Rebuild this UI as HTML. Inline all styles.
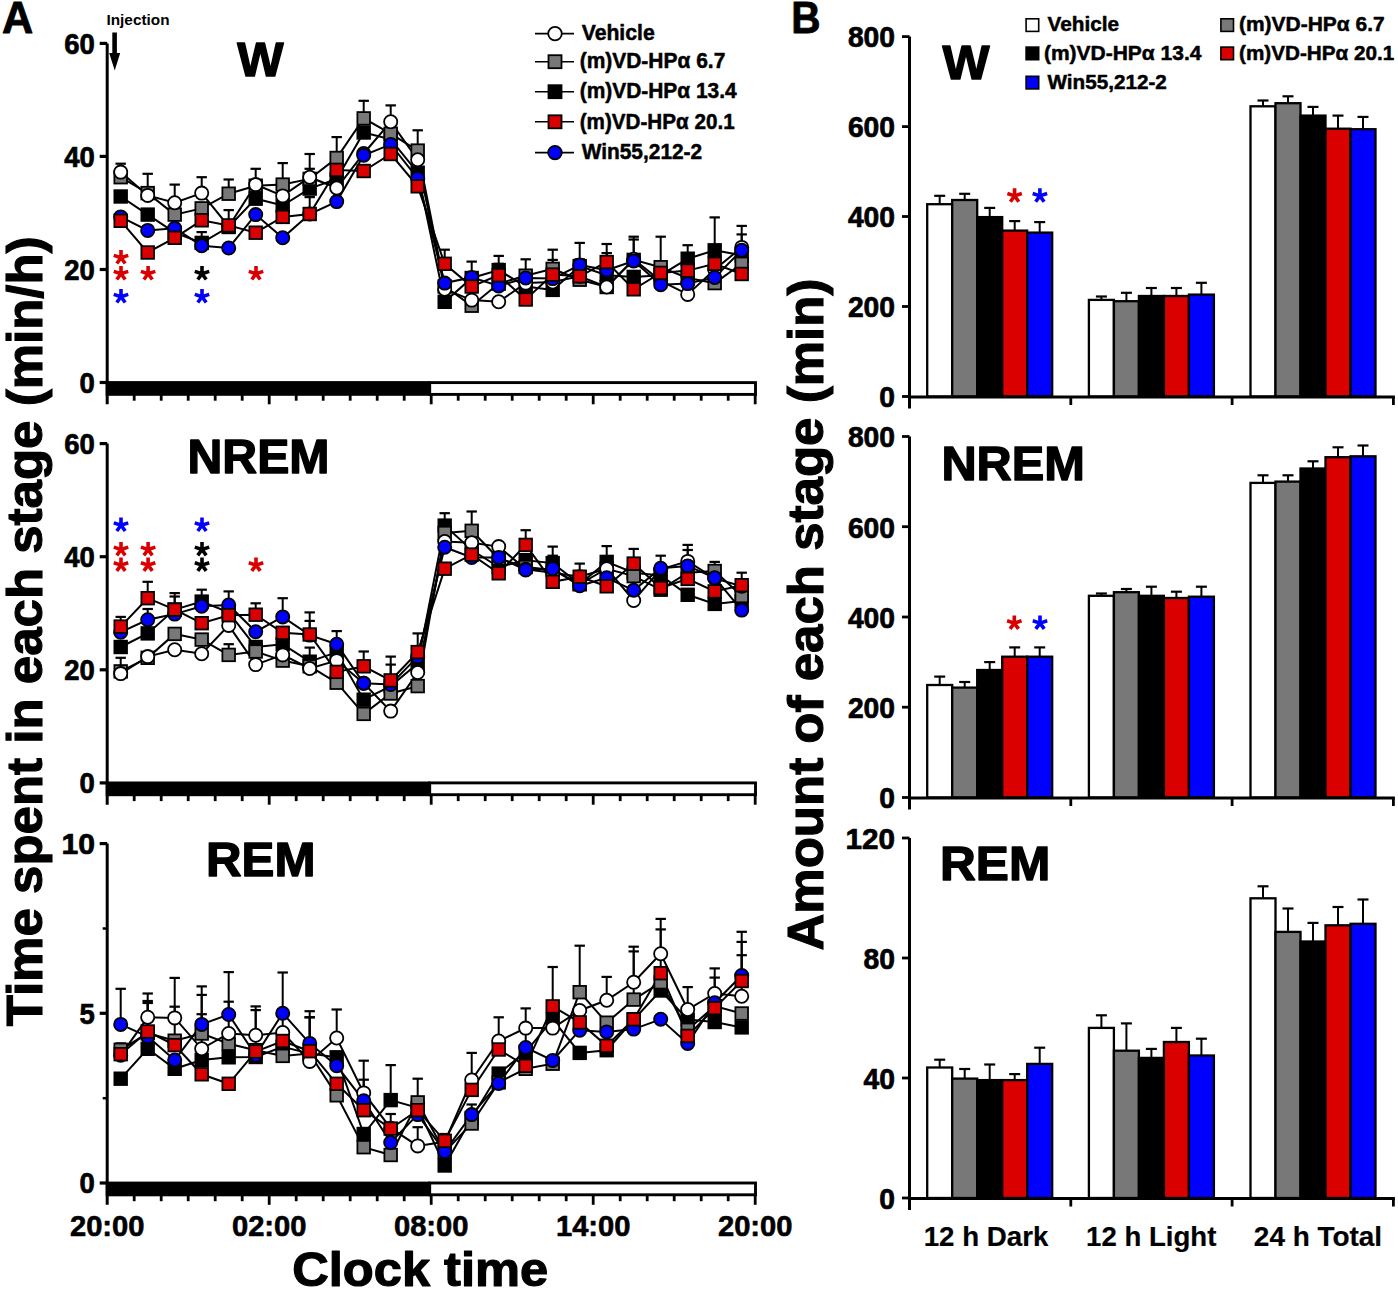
<!DOCTYPE html>
<html><head><meta charset="utf-8"><style>
html,body{margin:0;padding:0;background:#fff;width:1398px;height:1291px;overflow:hidden}
svg{display:block}
</style></head><body>
<svg width="1398" height="1291" viewBox="0 0 1398 1291" font-family='"Liberation Sans", sans-serif' font-weight="bold">
<rect width="1398" height="1291" fill="#fff"/>
<text x="2.0" y="32.8" font-size="43.5" text-anchor="start" fill="#000" stroke="#000" stroke-width="0.8" stroke-linejoin="round" textLength="31.2" lengthAdjust="spacingAndGlyphs">A</text>
<text x="106.5" y="25.0" font-size="15.5" text-anchor="start" fill="#000" textLength="63.0" lengthAdjust="spacingAndGlyphs">Injection</text>
<rect x="112.3" y="32.5" width="4.6" height="22" fill="#000"/>
<path d="M109.2,53 L120.2,53 L114.7,70.5 Z" fill="#000"/>
<line x1="107.2" y1="43.4" x2="107.2" y2="404.3" stroke="#000" stroke-width="3"/>
<line x1="99.7" y1="43.4" x2="107.2" y2="43.4" stroke="#000" stroke-width="3.2"/>
<text x="94.9" y="53.7" font-size="29" text-anchor="end" fill="#000" stroke="#000" stroke-width="0.7" stroke-linejoin="round" textLength="30.6" lengthAdjust="spacingAndGlyphs">60</text>
<line x1="99.7" y1="156.4" x2="107.2" y2="156.4" stroke="#000" stroke-width="3.2"/>
<text x="94.9" y="166.7" font-size="29" text-anchor="end" fill="#000" stroke="#000" stroke-width="0.7" stroke-linejoin="round" textLength="30.6" lengthAdjust="spacingAndGlyphs">40</text>
<line x1="99.7" y1="269.5" x2="107.2" y2="269.5" stroke="#000" stroke-width="3.2"/>
<text x="94.9" y="279.8" font-size="29" text-anchor="end" fill="#000" stroke="#000" stroke-width="0.7" stroke-linejoin="round" textLength="30.6" lengthAdjust="spacingAndGlyphs">20</text>
<line x1="99.7" y1="382.5" x2="107.2" y2="382.5" stroke="#000" stroke-width="3.2"/>
<text x="94.9" y="392.8" font-size="29" text-anchor="end" fill="#000" stroke="#000" stroke-width="0.7" stroke-linejoin="round" textLength="15.3" lengthAdjust="spacingAndGlyphs">0</text>
<rect x="429.7" y="382.6" width="325.8" height="11.8" fill="#fff" stroke="#000" stroke-width="2.9"/>
<rect x="105.7" y="381.1" width="324.3" height="14.7" fill="#000"/>
<line x1="134.2" y1="393.5" x2="134.2" y2="400.7" stroke="#000" stroke-width="2.8"/>
<line x1="161.2" y1="393.5" x2="161.2" y2="400.7" stroke="#000" stroke-width="2.8"/>
<line x1="188.2" y1="393.5" x2="188.2" y2="400.7" stroke="#000" stroke-width="2.8"/>
<line x1="215.2" y1="393.5" x2="215.2" y2="400.7" stroke="#000" stroke-width="2.8"/>
<line x1="242.2" y1="393.5" x2="242.2" y2="400.7" stroke="#000" stroke-width="2.8"/>
<line x1="269.2" y1="393.5" x2="269.2" y2="404.3" stroke="#000" stroke-width="2.8"/>
<line x1="296.2" y1="393.5" x2="296.2" y2="400.7" stroke="#000" stroke-width="2.8"/>
<line x1="323.2" y1="393.5" x2="323.2" y2="400.7" stroke="#000" stroke-width="2.8"/>
<line x1="350.2" y1="393.5" x2="350.2" y2="400.7" stroke="#000" stroke-width="2.8"/>
<line x1="377.2" y1="393.5" x2="377.2" y2="400.7" stroke="#000" stroke-width="2.8"/>
<line x1="404.2" y1="393.5" x2="404.2" y2="400.7" stroke="#000" stroke-width="2.8"/>
<line x1="431.2" y1="393.5" x2="431.2" y2="404.3" stroke="#000" stroke-width="2.8"/>
<line x1="458.2" y1="393.5" x2="458.2" y2="400.7" stroke="#000" stroke-width="2.8"/>
<line x1="485.2" y1="393.5" x2="485.2" y2="400.7" stroke="#000" stroke-width="2.8"/>
<line x1="512.2" y1="393.5" x2="512.2" y2="400.7" stroke="#000" stroke-width="2.8"/>
<line x1="539.2" y1="393.5" x2="539.2" y2="400.7" stroke="#000" stroke-width="2.8"/>
<line x1="566.2" y1="393.5" x2="566.2" y2="400.7" stroke="#000" stroke-width="2.8"/>
<line x1="593.2" y1="393.5" x2="593.2" y2="404.3" stroke="#000" stroke-width="2.8"/>
<line x1="620.2" y1="393.5" x2="620.2" y2="400.7" stroke="#000" stroke-width="2.8"/>
<line x1="647.2" y1="393.5" x2="647.2" y2="400.7" stroke="#000" stroke-width="2.8"/>
<line x1="674.2" y1="393.5" x2="674.2" y2="400.7" stroke="#000" stroke-width="2.8"/>
<line x1="701.2" y1="393.5" x2="701.2" y2="400.7" stroke="#000" stroke-width="2.8"/>
<line x1="728.2" y1="393.5" x2="728.2" y2="400.7" stroke="#000" stroke-width="2.8"/>
<line x1="755.2" y1="393.5" x2="755.2" y2="404.3" stroke="#000" stroke-width="2.8"/>
<text x="237.2" y="75.7" font-size="49" text-anchor="start" fill="#000" stroke="#000" stroke-width="1.4" stroke-linejoin="round" textLength="46.3" lengthAdjust="spacingAndGlyphs">W</text>
<polyline points="120.7,172.1 147.7,195.4 174.7,202.7 201.7,193.1 228.7,226.5 255.7,184.6 282.7,195.9 309.7,177.2 336.7,188.0 363.7,153.5 390.7,121.8 417.7,159.7 444.7,289.3 471.7,300.1 498.7,301.8 525.7,283.1 552.7,282.0 579.7,276.3 606.7,287.0 633.7,259.3 660.7,280.8 687.7,294.4 714.7,269.5 741.7,247.4" fill="none" stroke="#000" stroke-width="2"/>
<polyline points="120.7,177.2 147.7,193.1 174.7,214.6 201.7,208.4 228.7,193.7 255.7,185.7 282.7,184.6 309.7,178.9 336.7,158.0 363.7,118.4 390.7,133.7 417.7,150.6 444.7,286.5 471.7,305.7 498.7,283.6 525.7,275.7 552.7,268.9 579.7,279.7 606.7,287.0 633.7,259.9 660.7,267.2 687.7,278.0 714.7,283.1 741.7,263.8" fill="none" stroke="#000" stroke-width="2"/>
<polyline points="120.7,196.5 147.7,214.6 174.7,232.7 201.7,242.9 228.7,227.0 255.7,198.7 282.7,205.5 309.7,188.6 336.7,178.9 363.7,132.5 390.7,139.3 417.7,172.7 444.7,301.8 471.7,278.0 498.7,270.1 525.7,286.5 552.7,289.9 579.7,266.1 606.7,275.2 633.7,276.9 660.7,275.2 687.7,258.7 714.7,250.3 741.7,255.3" fill="none" stroke="#000" stroke-width="2"/>
<polyline points="120.7,220.8 147.7,252.5 174.7,237.8 201.7,220.3 228.7,225.4 255.7,232.7 282.7,216.9 309.7,214.0 336.7,169.9 363.7,171.0 390.7,154.0 417.7,186.3 444.7,263.8 471.7,286.5 498.7,275.2 525.7,299.5 552.7,274.6 579.7,276.3 606.7,262.1 633.7,289.3 660.7,272.9 687.7,270.6 714.7,263.8 741.7,274.0" fill="none" stroke="#000" stroke-width="2"/>
<polyline points="120.7,216.9 147.7,230.4 174.7,228.2 201.7,245.7 228.7,248.0 255.7,214.6 282.7,237.8 309.7,214.0 336.7,201.6 363.7,155.2 390.7,144.4 417.7,178.4 444.7,283.1 471.7,277.4 498.7,285.9 525.7,278.0 552.7,278.6 579.7,265.0 606.7,270.1 633.7,261.0 660.7,284.8 687.7,283.6 714.7,277.4 741.7,250.3" fill="none" stroke="#000" stroke-width="2"/>
<line x1="120.7" y1="172.1" x2="120.7" y2="163.7" stroke="#000" stroke-width="2"/>
<line x1="115.5" y1="163.7" x2="125.9" y2="163.7" stroke="#000" stroke-width="2.2"/>
<line x1="147.7" y1="193.1" x2="147.7" y2="173.8" stroke="#000" stroke-width="2"/>
<line x1="142.5" y1="173.8" x2="152.9" y2="173.8" stroke="#000" stroke-width="2.2"/>
<line x1="174.7" y1="202.7" x2="174.7" y2="184.6" stroke="#000" stroke-width="2"/>
<line x1="169.5" y1="184.6" x2="179.9" y2="184.6" stroke="#000" stroke-width="2.2"/>
<line x1="201.7" y1="193.1" x2="201.7" y2="177.2" stroke="#000" stroke-width="2"/>
<line x1="196.5" y1="177.2" x2="206.9" y2="177.2" stroke="#000" stroke-width="2.2"/>
<line x1="201.7" y1="242.9" x2="201.7" y2="232.1" stroke="#000" stroke-width="2"/>
<line x1="196.5" y1="232.1" x2="206.9" y2="232.1" stroke="#000" stroke-width="2.2"/>
<line x1="228.7" y1="193.7" x2="228.7" y2="179.5" stroke="#000" stroke-width="2"/>
<line x1="223.5" y1="179.5" x2="233.9" y2="179.5" stroke="#000" stroke-width="2.2"/>
<line x1="228.7" y1="227.0" x2="228.7" y2="210.1" stroke="#000" stroke-width="2"/>
<line x1="223.5" y1="210.1" x2="233.9" y2="210.1" stroke="#000" stroke-width="2.2"/>
<line x1="255.7" y1="184.6" x2="255.7" y2="168.8" stroke="#000" stroke-width="2"/>
<line x1="250.5" y1="168.8" x2="260.9" y2="168.8" stroke="#000" stroke-width="2.2"/>
<line x1="282.7" y1="184.6" x2="282.7" y2="163.1" stroke="#000" stroke-width="2"/>
<line x1="277.5" y1="163.1" x2="287.9" y2="163.1" stroke="#000" stroke-width="2.2"/>
<line x1="309.7" y1="177.2" x2="309.7" y2="154.0" stroke="#000" stroke-width="2"/>
<line x1="304.5" y1="154.0" x2="314.9" y2="154.0" stroke="#000" stroke-width="2.2"/>
<line x1="309.7" y1="188.6" x2="309.7" y2="168.8" stroke="#000" stroke-width="2"/>
<line x1="304.5" y1="168.8" x2="314.9" y2="168.8" stroke="#000" stroke-width="2.2"/>
<line x1="309.7" y1="214.0" x2="309.7" y2="197.1" stroke="#000" stroke-width="2"/>
<line x1="304.5" y1="197.1" x2="314.9" y2="197.1" stroke="#000" stroke-width="2.2"/>
<line x1="336.7" y1="178.9" x2="336.7" y2="168.2" stroke="#000" stroke-width="2"/>
<line x1="331.5" y1="168.2" x2="341.9" y2="168.2" stroke="#000" stroke-width="2.2"/>
<line x1="336.7" y1="188.0" x2="336.7" y2="175.0" stroke="#000" stroke-width="2"/>
<line x1="331.5" y1="175.0" x2="341.9" y2="175.0" stroke="#000" stroke-width="2.2"/>
<line x1="390.7" y1="139.3" x2="390.7" y2="124.6" stroke="#000" stroke-width="2"/>
<line x1="385.5" y1="124.6" x2="395.9" y2="124.6" stroke="#000" stroke-width="2.2"/>
<line x1="417.7" y1="159.7" x2="417.7" y2="145.5" stroke="#000" stroke-width="2"/>
<line x1="412.5" y1="145.5" x2="422.9" y2="145.5" stroke="#000" stroke-width="2.2"/>
<line x1="336.7" y1="158.0" x2="336.7" y2="137.1" stroke="#000" stroke-width="2"/>
<line x1="331.5" y1="137.1" x2="341.9" y2="137.1" stroke="#000" stroke-width="2.2"/>
<line x1="336.7" y1="169.9" x2="336.7" y2="155.7" stroke="#000" stroke-width="2"/>
<line x1="331.5" y1="155.7" x2="341.9" y2="155.7" stroke="#000" stroke-width="2.2"/>
<line x1="363.7" y1="118.4" x2="363.7" y2="100.8" stroke="#000" stroke-width="2"/>
<line x1="358.5" y1="100.8" x2="368.9" y2="100.8" stroke="#000" stroke-width="2.2"/>
<line x1="390.7" y1="121.8" x2="390.7" y2="105.4" stroke="#000" stroke-width="2"/>
<line x1="385.5" y1="105.4" x2="395.9" y2="105.4" stroke="#000" stroke-width="2.2"/>
<line x1="390.7" y1="133.7" x2="390.7" y2="121.2" stroke="#000" stroke-width="2"/>
<line x1="385.5" y1="121.2" x2="395.9" y2="121.2" stroke="#000" stroke-width="2.2"/>
<line x1="417.7" y1="150.6" x2="417.7" y2="130.3" stroke="#000" stroke-width="2"/>
<line x1="412.5" y1="130.3" x2="422.9" y2="130.3" stroke="#000" stroke-width="2.2"/>
<line x1="444.7" y1="263.8" x2="444.7" y2="249.7" stroke="#000" stroke-width="2"/>
<line x1="439.5" y1="249.7" x2="449.9" y2="249.7" stroke="#000" stroke-width="2.2"/>
<line x1="471.7" y1="277.4" x2="471.7" y2="261.6" stroke="#000" stroke-width="2"/>
<line x1="466.5" y1="261.6" x2="476.9" y2="261.6" stroke="#000" stroke-width="2.2"/>
<line x1="498.7" y1="270.1" x2="498.7" y2="255.9" stroke="#000" stroke-width="2"/>
<line x1="493.5" y1="255.9" x2="503.9" y2="255.9" stroke="#000" stroke-width="2.2"/>
<line x1="498.7" y1="275.2" x2="498.7" y2="263.8" stroke="#000" stroke-width="2"/>
<line x1="493.5" y1="263.8" x2="503.9" y2="263.8" stroke="#000" stroke-width="2.2"/>
<line x1="525.7" y1="275.7" x2="525.7" y2="259.3" stroke="#000" stroke-width="2"/>
<line x1="520.5" y1="259.3" x2="530.9" y2="259.3" stroke="#000" stroke-width="2.2"/>
<line x1="552.7" y1="268.9" x2="552.7" y2="249.7" stroke="#000" stroke-width="2"/>
<line x1="547.5" y1="249.7" x2="557.9" y2="249.7" stroke="#000" stroke-width="2.2"/>
<line x1="552.7" y1="274.6" x2="552.7" y2="259.9" stroke="#000" stroke-width="2"/>
<line x1="547.5" y1="259.9" x2="557.9" y2="259.9" stroke="#000" stroke-width="2.2"/>
<line x1="579.7" y1="265.0" x2="579.7" y2="242.9" stroke="#000" stroke-width="2"/>
<line x1="574.5" y1="242.9" x2="584.9" y2="242.9" stroke="#000" stroke-width="2.2"/>
<line x1="579.7" y1="276.3" x2="579.7" y2="259.3" stroke="#000" stroke-width="2"/>
<line x1="574.5" y1="259.3" x2="584.9" y2="259.3" stroke="#000" stroke-width="2.2"/>
<line x1="606.7" y1="262.1" x2="606.7" y2="244.0" stroke="#000" stroke-width="2"/>
<line x1="601.5" y1="244.0" x2="611.9" y2="244.0" stroke="#000" stroke-width="2.2"/>
<line x1="606.7" y1="270.1" x2="606.7" y2="253.1" stroke="#000" stroke-width="2"/>
<line x1="601.5" y1="253.1" x2="611.9" y2="253.1" stroke="#000" stroke-width="2.2"/>
<line x1="633.7" y1="261.0" x2="633.7" y2="236.7" stroke="#000" stroke-width="2"/>
<line x1="628.5" y1="236.7" x2="638.9" y2="236.7" stroke="#000" stroke-width="2.2"/>
<line x1="633.7" y1="259.3" x2="633.7" y2="239.5" stroke="#000" stroke-width="2"/>
<line x1="628.5" y1="239.5" x2="638.9" y2="239.5" stroke="#000" stroke-width="2.2"/>
<line x1="660.7" y1="267.2" x2="660.7" y2="236.7" stroke="#000" stroke-width="2"/>
<line x1="655.5" y1="236.7" x2="665.9" y2="236.7" stroke="#000" stroke-width="2.2"/>
<line x1="687.7" y1="258.7" x2="687.7" y2="245.2" stroke="#000" stroke-width="2"/>
<line x1="682.5" y1="245.2" x2="692.9" y2="245.2" stroke="#000" stroke-width="2.2"/>
<line x1="687.7" y1="270.6" x2="687.7" y2="259.3" stroke="#000" stroke-width="2"/>
<line x1="682.5" y1="259.3" x2="692.9" y2="259.3" stroke="#000" stroke-width="2.2"/>
<line x1="714.7" y1="250.3" x2="714.7" y2="217.4" stroke="#000" stroke-width="2"/>
<line x1="709.5" y1="217.4" x2="719.9" y2="217.4" stroke="#000" stroke-width="2.2"/>
<line x1="741.7" y1="247.4" x2="741.7" y2="225.9" stroke="#000" stroke-width="2"/>
<line x1="736.5" y1="225.9" x2="746.9" y2="225.9" stroke="#000" stroke-width="2.2"/>
<line x1="741.7" y1="250.3" x2="741.7" y2="234.4" stroke="#000" stroke-width="2"/>
<line x1="736.5" y1="234.4" x2="746.9" y2="234.4" stroke="#000" stroke-width="2.2"/>
<rect x="114.4" y="190.2" width="12.6" height="12.6" fill="#000" stroke="#000" stroke-width="1.8"/>
<rect x="141.4" y="208.3" width="12.6" height="12.6" fill="#000" stroke="#000" stroke-width="1.8"/>
<rect x="168.4" y="226.4" width="12.6" height="12.6" fill="#000" stroke="#000" stroke-width="1.8"/>
<rect x="195.4" y="236.6" width="12.6" height="12.6" fill="#000" stroke="#000" stroke-width="1.8"/>
<rect x="222.4" y="220.7" width="12.6" height="12.6" fill="#000" stroke="#000" stroke-width="1.8"/>
<rect x="249.4" y="192.4" width="12.6" height="12.6" fill="#000" stroke="#000" stroke-width="1.8"/>
<rect x="276.4" y="199.2" width="12.6" height="12.6" fill="#000" stroke="#000" stroke-width="1.8"/>
<rect x="303.4" y="182.3" width="12.6" height="12.6" fill="#000" stroke="#000" stroke-width="1.8"/>
<rect x="330.4" y="172.6" width="12.6" height="12.6" fill="#000" stroke="#000" stroke-width="1.8"/>
<rect x="357.4" y="126.2" width="12.6" height="12.6" fill="#000" stroke="#000" stroke-width="1.8"/>
<rect x="384.4" y="133.0" width="12.6" height="12.6" fill="#000" stroke="#000" stroke-width="1.8"/>
<rect x="411.4" y="166.4" width="12.6" height="12.6" fill="#000" stroke="#000" stroke-width="1.8"/>
<rect x="438.4" y="295.5" width="12.6" height="12.6" fill="#000" stroke="#000" stroke-width="1.8"/>
<rect x="465.4" y="271.7" width="12.6" height="12.6" fill="#000" stroke="#000" stroke-width="1.8"/>
<rect x="492.4" y="263.8" width="12.6" height="12.6" fill="#000" stroke="#000" stroke-width="1.8"/>
<rect x="519.4" y="280.2" width="12.6" height="12.6" fill="#000" stroke="#000" stroke-width="1.8"/>
<rect x="546.4" y="283.6" width="12.6" height="12.6" fill="#000" stroke="#000" stroke-width="1.8"/>
<rect x="573.4" y="259.8" width="12.6" height="12.6" fill="#000" stroke="#000" stroke-width="1.8"/>
<rect x="600.4" y="268.9" width="12.6" height="12.6" fill="#000" stroke="#000" stroke-width="1.8"/>
<rect x="627.4" y="270.6" width="12.6" height="12.6" fill="#000" stroke="#000" stroke-width="1.8"/>
<rect x="654.4" y="268.9" width="12.6" height="12.6" fill="#000" stroke="#000" stroke-width="1.8"/>
<rect x="681.4" y="252.4" width="12.6" height="12.6" fill="#000" stroke="#000" stroke-width="1.8"/>
<rect x="708.4" y="244.0" width="12.6" height="12.6" fill="#000" stroke="#000" stroke-width="1.8"/>
<rect x="735.4" y="249.0" width="12.6" height="12.6" fill="#000" stroke="#000" stroke-width="1.8"/>
<rect x="114.4" y="170.9" width="12.6" height="12.6" fill="#787878" stroke="#000" stroke-width="1.8"/>
<rect x="141.4" y="186.8" width="12.6" height="12.6" fill="#787878" stroke="#000" stroke-width="1.8"/>
<rect x="168.4" y="208.3" width="12.6" height="12.6" fill="#787878" stroke="#000" stroke-width="1.8"/>
<rect x="195.4" y="202.1" width="12.6" height="12.6" fill="#787878" stroke="#000" stroke-width="1.8"/>
<rect x="222.4" y="187.4" width="12.6" height="12.6" fill="#787878" stroke="#000" stroke-width="1.8"/>
<rect x="249.4" y="179.4" width="12.6" height="12.6" fill="#787878" stroke="#000" stroke-width="1.8"/>
<rect x="276.4" y="178.3" width="12.6" height="12.6" fill="#787878" stroke="#000" stroke-width="1.8"/>
<rect x="303.4" y="172.6" width="12.6" height="12.6" fill="#787878" stroke="#000" stroke-width="1.8"/>
<rect x="330.4" y="151.7" width="12.6" height="12.6" fill="#787878" stroke="#000" stroke-width="1.8"/>
<rect x="357.4" y="112.1" width="12.6" height="12.6" fill="#787878" stroke="#000" stroke-width="1.8"/>
<rect x="384.4" y="127.4" width="12.6" height="12.6" fill="#787878" stroke="#000" stroke-width="1.8"/>
<rect x="411.4" y="144.3" width="12.6" height="12.6" fill="#787878" stroke="#000" stroke-width="1.8"/>
<rect x="438.4" y="280.2" width="12.6" height="12.6" fill="#787878" stroke="#000" stroke-width="1.8"/>
<rect x="465.4" y="299.4" width="12.6" height="12.6" fill="#787878" stroke="#000" stroke-width="1.8"/>
<rect x="492.4" y="277.3" width="12.6" height="12.6" fill="#787878" stroke="#000" stroke-width="1.8"/>
<rect x="519.4" y="269.4" width="12.6" height="12.6" fill="#787878" stroke="#000" stroke-width="1.8"/>
<rect x="546.4" y="262.6" width="12.6" height="12.6" fill="#787878" stroke="#000" stroke-width="1.8"/>
<rect x="573.4" y="273.4" width="12.6" height="12.6" fill="#787878" stroke="#000" stroke-width="1.8"/>
<rect x="600.4" y="280.7" width="12.6" height="12.6" fill="#787878" stroke="#000" stroke-width="1.8"/>
<rect x="627.4" y="253.6" width="12.6" height="12.6" fill="#787878" stroke="#000" stroke-width="1.8"/>
<rect x="654.4" y="260.9" width="12.6" height="12.6" fill="#787878" stroke="#000" stroke-width="1.8"/>
<rect x="681.4" y="271.7" width="12.6" height="12.6" fill="#787878" stroke="#000" stroke-width="1.8"/>
<rect x="708.4" y="276.8" width="12.6" height="12.6" fill="#787878" stroke="#000" stroke-width="1.8"/>
<rect x="735.4" y="257.5" width="12.6" height="12.6" fill="#787878" stroke="#000" stroke-width="1.8"/>
<circle cx="120.7" cy="172.1" r="6.6" fill="#fff" stroke="#000" stroke-width="1.8"/>
<circle cx="147.7" cy="195.4" r="6.6" fill="#fff" stroke="#000" stroke-width="1.8"/>
<circle cx="174.7" cy="202.7" r="6.6" fill="#fff" stroke="#000" stroke-width="1.8"/>
<circle cx="201.7" cy="193.1" r="6.6" fill="#fff" stroke="#000" stroke-width="1.8"/>
<circle cx="228.7" cy="226.5" r="6.6" fill="#fff" stroke="#000" stroke-width="1.8"/>
<circle cx="255.7" cy="184.6" r="6.6" fill="#fff" stroke="#000" stroke-width="1.8"/>
<circle cx="282.7" cy="195.9" r="6.6" fill="#fff" stroke="#000" stroke-width="1.8"/>
<circle cx="309.7" cy="177.2" r="6.6" fill="#fff" stroke="#000" stroke-width="1.8"/>
<circle cx="336.7" cy="188.0" r="6.6" fill="#fff" stroke="#000" stroke-width="1.8"/>
<circle cx="363.7" cy="153.5" r="6.6" fill="#fff" stroke="#000" stroke-width="1.8"/>
<circle cx="390.7" cy="121.8" r="6.6" fill="#fff" stroke="#000" stroke-width="1.8"/>
<circle cx="417.7" cy="159.7" r="6.6" fill="#fff" stroke="#000" stroke-width="1.8"/>
<circle cx="444.7" cy="289.3" r="6.6" fill="#fff" stroke="#000" stroke-width="1.8"/>
<circle cx="471.7" cy="300.1" r="6.6" fill="#fff" stroke="#000" stroke-width="1.8"/>
<circle cx="498.7" cy="301.8" r="6.6" fill="#fff" stroke="#000" stroke-width="1.8"/>
<circle cx="525.7" cy="283.1" r="6.6" fill="#fff" stroke="#000" stroke-width="1.8"/>
<circle cx="552.7" cy="282.0" r="6.6" fill="#fff" stroke="#000" stroke-width="1.8"/>
<circle cx="579.7" cy="276.3" r="6.6" fill="#fff" stroke="#000" stroke-width="1.8"/>
<circle cx="606.7" cy="287.0" r="6.6" fill="#fff" stroke="#000" stroke-width="1.8"/>
<circle cx="633.7" cy="259.3" r="6.6" fill="#fff" stroke="#000" stroke-width="1.8"/>
<circle cx="660.7" cy="280.8" r="6.6" fill="#fff" stroke="#000" stroke-width="1.8"/>
<circle cx="687.7" cy="294.4" r="6.6" fill="#fff" stroke="#000" stroke-width="1.8"/>
<circle cx="714.7" cy="269.5" r="6.6" fill="#fff" stroke="#000" stroke-width="1.8"/>
<circle cx="741.7" cy="247.4" r="6.6" fill="#fff" stroke="#000" stroke-width="1.8"/>
<circle cx="120.7" cy="216.9" r="6.6" fill="#0000ff" stroke="#000" stroke-width="1.8"/>
<circle cx="147.7" cy="230.4" r="6.6" fill="#0000ff" stroke="#000" stroke-width="1.8"/>
<circle cx="174.7" cy="228.2" r="6.6" fill="#0000ff" stroke="#000" stroke-width="1.8"/>
<circle cx="201.7" cy="245.7" r="6.6" fill="#0000ff" stroke="#000" stroke-width="1.8"/>
<circle cx="228.7" cy="248.0" r="6.6" fill="#0000ff" stroke="#000" stroke-width="1.8"/>
<circle cx="255.7" cy="214.6" r="6.6" fill="#0000ff" stroke="#000" stroke-width="1.8"/>
<circle cx="282.7" cy="237.8" r="6.6" fill="#0000ff" stroke="#000" stroke-width="1.8"/>
<circle cx="309.7" cy="214.0" r="6.6" fill="#0000ff" stroke="#000" stroke-width="1.8"/>
<circle cx="336.7" cy="201.6" r="6.6" fill="#0000ff" stroke="#000" stroke-width="1.8"/>
<circle cx="363.7" cy="155.2" r="6.6" fill="#0000ff" stroke="#000" stroke-width="1.8"/>
<circle cx="390.7" cy="144.4" r="6.6" fill="#0000ff" stroke="#000" stroke-width="1.8"/>
<circle cx="417.7" cy="178.4" r="6.6" fill="#0000ff" stroke="#000" stroke-width="1.8"/>
<circle cx="444.7" cy="283.1" r="6.6" fill="#0000ff" stroke="#000" stroke-width="1.8"/>
<circle cx="471.7" cy="277.4" r="6.6" fill="#0000ff" stroke="#000" stroke-width="1.8"/>
<circle cx="498.7" cy="285.9" r="6.6" fill="#0000ff" stroke="#000" stroke-width="1.8"/>
<circle cx="525.7" cy="278.0" r="6.6" fill="#0000ff" stroke="#000" stroke-width="1.8"/>
<circle cx="552.7" cy="278.6" r="6.6" fill="#0000ff" stroke="#000" stroke-width="1.8"/>
<circle cx="579.7" cy="265.0" r="6.6" fill="#0000ff" stroke="#000" stroke-width="1.8"/>
<circle cx="606.7" cy="270.1" r="6.6" fill="#0000ff" stroke="#000" stroke-width="1.8"/>
<circle cx="633.7" cy="261.0" r="6.6" fill="#0000ff" stroke="#000" stroke-width="1.8"/>
<circle cx="660.7" cy="284.8" r="6.6" fill="#0000ff" stroke="#000" stroke-width="1.8"/>
<circle cx="687.7" cy="283.6" r="6.6" fill="#0000ff" stroke="#000" stroke-width="1.8"/>
<circle cx="714.7" cy="277.4" r="6.6" fill="#0000ff" stroke="#000" stroke-width="1.8"/>
<circle cx="741.7" cy="250.3" r="6.6" fill="#0000ff" stroke="#000" stroke-width="1.8"/>
<rect x="114.4" y="214.5" width="12.6" height="12.6" fill="#da0000" stroke="#000" stroke-width="1.8"/>
<rect x="141.4" y="246.2" width="12.6" height="12.6" fill="#da0000" stroke="#000" stroke-width="1.8"/>
<rect x="168.4" y="231.5" width="12.6" height="12.6" fill="#da0000" stroke="#000" stroke-width="1.8"/>
<rect x="195.4" y="214.0" width="12.6" height="12.6" fill="#da0000" stroke="#000" stroke-width="1.8"/>
<rect x="222.4" y="219.1" width="12.6" height="12.6" fill="#da0000" stroke="#000" stroke-width="1.8"/>
<rect x="249.4" y="226.4" width="12.6" height="12.6" fill="#da0000" stroke="#000" stroke-width="1.8"/>
<rect x="276.4" y="210.6" width="12.6" height="12.6" fill="#da0000" stroke="#000" stroke-width="1.8"/>
<rect x="303.4" y="207.7" width="12.6" height="12.6" fill="#da0000" stroke="#000" stroke-width="1.8"/>
<rect x="330.4" y="163.6" width="12.6" height="12.6" fill="#da0000" stroke="#000" stroke-width="1.8"/>
<rect x="357.4" y="164.7" width="12.6" height="12.6" fill="#da0000" stroke="#000" stroke-width="1.8"/>
<rect x="384.4" y="147.7" width="12.6" height="12.6" fill="#da0000" stroke="#000" stroke-width="1.8"/>
<rect x="411.4" y="180.0" width="12.6" height="12.6" fill="#da0000" stroke="#000" stroke-width="1.8"/>
<rect x="438.4" y="257.5" width="12.6" height="12.6" fill="#da0000" stroke="#000" stroke-width="1.8"/>
<rect x="465.4" y="280.2" width="12.6" height="12.6" fill="#da0000" stroke="#000" stroke-width="1.8"/>
<rect x="492.4" y="268.9" width="12.6" height="12.6" fill="#da0000" stroke="#000" stroke-width="1.8"/>
<rect x="519.4" y="293.2" width="12.6" height="12.6" fill="#da0000" stroke="#000" stroke-width="1.8"/>
<rect x="546.4" y="268.3" width="12.6" height="12.6" fill="#da0000" stroke="#000" stroke-width="1.8"/>
<rect x="573.4" y="270.0" width="12.6" height="12.6" fill="#da0000" stroke="#000" stroke-width="1.8"/>
<rect x="600.4" y="255.8" width="12.6" height="12.6" fill="#da0000" stroke="#000" stroke-width="1.8"/>
<rect x="627.4" y="283.0" width="12.6" height="12.6" fill="#da0000" stroke="#000" stroke-width="1.8"/>
<rect x="654.4" y="266.6" width="12.6" height="12.6" fill="#da0000" stroke="#000" stroke-width="1.8"/>
<rect x="681.4" y="264.3" width="12.6" height="12.6" fill="#da0000" stroke="#000" stroke-width="1.8"/>
<rect x="708.4" y="257.5" width="12.6" height="12.6" fill="#da0000" stroke="#000" stroke-width="1.8"/>
<rect x="735.4" y="267.7" width="12.6" height="12.6" fill="#da0000" stroke="#000" stroke-width="1.8"/>
<line x1="107.2" y1="443.6" x2="107.2" y2="804.7" stroke="#000" stroke-width="3"/>
<line x1="99.7" y1="443.6" x2="107.2" y2="443.6" stroke="#000" stroke-width="3.2"/>
<text x="94.9" y="453.9" font-size="29" text-anchor="end" fill="#000" stroke="#000" stroke-width="0.7" stroke-linejoin="round" textLength="30.6" lengthAdjust="spacingAndGlyphs">60</text>
<line x1="99.7" y1="556.7" x2="107.2" y2="556.7" stroke="#000" stroke-width="3.2"/>
<text x="94.9" y="567.0" font-size="29" text-anchor="end" fill="#000" stroke="#000" stroke-width="0.7" stroke-linejoin="round" textLength="30.6" lengthAdjust="spacingAndGlyphs">40</text>
<line x1="99.7" y1="669.8" x2="107.2" y2="669.8" stroke="#000" stroke-width="3.2"/>
<text x="94.9" y="680.1" font-size="29" text-anchor="end" fill="#000" stroke="#000" stroke-width="0.7" stroke-linejoin="round" textLength="30.6" lengthAdjust="spacingAndGlyphs">20</text>
<line x1="99.7" y1="782.9" x2="107.2" y2="782.9" stroke="#000" stroke-width="3.2"/>
<text x="94.9" y="793.2" font-size="29" text-anchor="end" fill="#000" stroke="#000" stroke-width="0.7" stroke-linejoin="round" textLength="15.3" lengthAdjust="spacingAndGlyphs">0</text>
<rect x="429.7" y="782.9" width="325.8" height="11.8" fill="#fff" stroke="#000" stroke-width="2.9"/>
<rect x="105.7" y="781.5" width="324.3" height="14.7" fill="#000"/>
<line x1="134.2" y1="793.9" x2="134.2" y2="801.1" stroke="#000" stroke-width="2.8"/>
<line x1="161.2" y1="793.9" x2="161.2" y2="801.1" stroke="#000" stroke-width="2.8"/>
<line x1="188.2" y1="793.9" x2="188.2" y2="801.1" stroke="#000" stroke-width="2.8"/>
<line x1="215.2" y1="793.9" x2="215.2" y2="801.1" stroke="#000" stroke-width="2.8"/>
<line x1="242.2" y1="793.9" x2="242.2" y2="801.1" stroke="#000" stroke-width="2.8"/>
<line x1="269.2" y1="793.9" x2="269.2" y2="804.7" stroke="#000" stroke-width="2.8"/>
<line x1="296.2" y1="793.9" x2="296.2" y2="801.1" stroke="#000" stroke-width="2.8"/>
<line x1="323.2" y1="793.9" x2="323.2" y2="801.1" stroke="#000" stroke-width="2.8"/>
<line x1="350.2" y1="793.9" x2="350.2" y2="801.1" stroke="#000" stroke-width="2.8"/>
<line x1="377.2" y1="793.9" x2="377.2" y2="801.1" stroke="#000" stroke-width="2.8"/>
<line x1="404.2" y1="793.9" x2="404.2" y2="801.1" stroke="#000" stroke-width="2.8"/>
<line x1="431.2" y1="793.9" x2="431.2" y2="804.7" stroke="#000" stroke-width="2.8"/>
<line x1="458.2" y1="793.9" x2="458.2" y2="801.1" stroke="#000" stroke-width="2.8"/>
<line x1="485.2" y1="793.9" x2="485.2" y2="801.1" stroke="#000" stroke-width="2.8"/>
<line x1="512.2" y1="793.9" x2="512.2" y2="801.1" stroke="#000" stroke-width="2.8"/>
<line x1="539.2" y1="793.9" x2="539.2" y2="801.1" stroke="#000" stroke-width="2.8"/>
<line x1="566.2" y1="793.9" x2="566.2" y2="801.1" stroke="#000" stroke-width="2.8"/>
<line x1="593.2" y1="793.9" x2="593.2" y2="804.7" stroke="#000" stroke-width="2.8"/>
<line x1="620.2" y1="793.9" x2="620.2" y2="801.1" stroke="#000" stroke-width="2.8"/>
<line x1="647.2" y1="793.9" x2="647.2" y2="801.1" stroke="#000" stroke-width="2.8"/>
<line x1="674.2" y1="793.9" x2="674.2" y2="801.1" stroke="#000" stroke-width="2.8"/>
<line x1="701.2" y1="793.9" x2="701.2" y2="801.1" stroke="#000" stroke-width="2.8"/>
<line x1="728.2" y1="793.9" x2="728.2" y2="801.1" stroke="#000" stroke-width="2.8"/>
<line x1="755.2" y1="793.9" x2="755.2" y2="804.7" stroke="#000" stroke-width="2.8"/>
<text x="187.5" y="472.5" font-size="49" text-anchor="start" fill="#000" stroke="#000" stroke-width="1.4" stroke-linejoin="round" textLength="142.0" lengthAdjust="spacingAndGlyphs">NREM</text>
<polyline points="120.7,673.6 147.7,656.6 174.7,649.8 201.7,653.8 228.7,625.4 255.7,664.6 282.7,654.9 309.7,668.5 336.7,660.6 363.7,683.3 390.7,711.1 417.7,672.5 444.7,541.5 471.7,542.7 498.7,546.6 525.7,569.3 552.7,572.7 579.7,576.7 606.7,568.7 633.7,600.5 660.7,569.3 687.7,561.4 714.7,578.4 741.7,586.3" fill="none" stroke="#000" stroke-width="2"/>
<polyline points="120.7,671.4 147.7,657.8 174.7,633.9 201.7,639.6 228.7,654.9 255.7,651.5 282.7,660.6 309.7,666.3 336.7,682.7 363.7,713.9 390.7,693.5 417.7,686.1 444.7,533.0 471.7,530.8 498.7,558.5 525.7,567.0 552.7,569.9 579.7,584.0 606.7,568.7 633.7,576.1 660.7,589.7 687.7,572.7 714.7,571.0 741.7,596.0" fill="none" stroke="#000" stroke-width="2"/>
<polyline points="120.7,647.0 147.7,633.4 174.7,609.6 201.7,601.6 228.7,612.4 255.7,647.0 282.7,644.2 309.7,661.7 336.7,652.1 363.7,699.7 390.7,686.1 417.7,663.4 444.7,525.6 471.7,550.0 498.7,567.0 525.7,560.2 552.7,563.1 579.7,584.0 606.7,561.9 633.7,572.7 660.7,575.5 687.7,594.8 714.7,603.9 741.7,601.1" fill="none" stroke="#000" stroke-width="2"/>
<polyline points="120.7,626.6 147.7,598.2 174.7,609.6 201.7,623.2 228.7,615.2 255.7,614.7 282.7,632.8 309.7,634.5 336.7,671.9 363.7,666.3 390.7,680.4 417.7,652.1 444.7,568.7 471.7,554.6 498.7,573.3 525.7,544.9 552.7,581.8 579.7,576.7 606.7,586.3 633.7,563.6 660.7,588.0 687.7,578.9 714.7,591.4 741.7,585.2" fill="none" stroke="#000" stroke-width="2"/>
<polyline points="120.7,632.2 147.7,619.8 174.7,614.1 201.7,606.2 228.7,605.0 255.7,631.7 282.7,616.9 309.7,635.1 336.7,644.2 363.7,683.3 390.7,684.4 417.7,656.6 444.7,547.2 471.7,557.4 498.7,557.4 525.7,569.9 552.7,568.7 579.7,585.8 606.7,577.8 633.7,590.3 660.7,568.2 687.7,565.9 714.7,577.8 741.7,610.1" fill="none" stroke="#000" stroke-width="2"/>
<line x1="120.7" y1="626.6" x2="120.7" y2="616.9" stroke="#000" stroke-width="2"/>
<line x1="115.5" y1="616.9" x2="125.9" y2="616.9" stroke="#000" stroke-width="2.2"/>
<line x1="120.7" y1="671.4" x2="120.7" y2="657.8" stroke="#000" stroke-width="2"/>
<line x1="115.5" y1="657.8" x2="125.9" y2="657.8" stroke="#000" stroke-width="2.2"/>
<line x1="147.7" y1="598.2" x2="147.7" y2="581.8" stroke="#000" stroke-width="2"/>
<line x1="142.5" y1="581.8" x2="152.9" y2="581.8" stroke="#000" stroke-width="2.2"/>
<line x1="147.7" y1="619.8" x2="147.7" y2="609.0" stroke="#000" stroke-width="2"/>
<line x1="142.5" y1="609.0" x2="152.9" y2="609.0" stroke="#000" stroke-width="2.2"/>
<line x1="174.7" y1="609.6" x2="174.7" y2="593.1" stroke="#000" stroke-width="2"/>
<line x1="169.5" y1="593.1" x2="179.9" y2="593.1" stroke="#000" stroke-width="2.2"/>
<line x1="174.7" y1="609.6" x2="174.7" y2="596.5" stroke="#000" stroke-width="2"/>
<line x1="169.5" y1="596.5" x2="179.9" y2="596.5" stroke="#000" stroke-width="2.2"/>
<line x1="201.7" y1="601.6" x2="201.7" y2="589.7" stroke="#000" stroke-width="2"/>
<line x1="196.5" y1="589.7" x2="206.9" y2="589.7" stroke="#000" stroke-width="2.2"/>
<line x1="228.7" y1="605.0" x2="228.7" y2="591.4" stroke="#000" stroke-width="2"/>
<line x1="223.5" y1="591.4" x2="233.9" y2="591.4" stroke="#000" stroke-width="2.2"/>
<line x1="228.7" y1="654.9" x2="228.7" y2="644.2" stroke="#000" stroke-width="2"/>
<line x1="223.5" y1="644.2" x2="233.9" y2="644.2" stroke="#000" stroke-width="2.2"/>
<line x1="255.7" y1="614.7" x2="255.7" y2="603.3" stroke="#000" stroke-width="2"/>
<line x1="250.5" y1="603.3" x2="260.9" y2="603.3" stroke="#000" stroke-width="2.2"/>
<line x1="282.7" y1="616.9" x2="282.7" y2="598.2" stroke="#000" stroke-width="2"/>
<line x1="277.5" y1="598.2" x2="287.9" y2="598.2" stroke="#000" stroke-width="2.2"/>
<line x1="309.7" y1="634.5" x2="309.7" y2="612.4" stroke="#000" stroke-width="2"/>
<line x1="304.5" y1="612.4" x2="314.9" y2="612.4" stroke="#000" stroke-width="2.2"/>
<line x1="309.7" y1="661.7" x2="309.7" y2="647.6" stroke="#000" stroke-width="2"/>
<line x1="304.5" y1="647.6" x2="314.9" y2="647.6" stroke="#000" stroke-width="2.2"/>
<line x1="309.7" y1="635.1" x2="309.7" y2="620.9" stroke="#000" stroke-width="2"/>
<line x1="304.5" y1="620.9" x2="314.9" y2="620.9" stroke="#000" stroke-width="2.2"/>
<line x1="336.7" y1="644.2" x2="336.7" y2="631.1" stroke="#000" stroke-width="2"/>
<line x1="331.5" y1="631.1" x2="341.9" y2="631.1" stroke="#000" stroke-width="2.2"/>
<line x1="363.7" y1="666.3" x2="363.7" y2="651.5" stroke="#000" stroke-width="2"/>
<line x1="358.5" y1="651.5" x2="368.9" y2="651.5" stroke="#000" stroke-width="2.2"/>
<line x1="390.7" y1="680.4" x2="390.7" y2="656.6" stroke="#000" stroke-width="2"/>
<line x1="385.5" y1="656.6" x2="395.9" y2="656.6" stroke="#000" stroke-width="2.2"/>
<line x1="390.7" y1="684.4" x2="390.7" y2="664.6" stroke="#000" stroke-width="2"/>
<line x1="385.5" y1="664.6" x2="395.9" y2="664.6" stroke="#000" stroke-width="2.2"/>
<line x1="417.7" y1="652.1" x2="417.7" y2="633.4" stroke="#000" stroke-width="2"/>
<line x1="412.5" y1="633.4" x2="422.9" y2="633.4" stroke="#000" stroke-width="2.2"/>
<line x1="444.7" y1="525.6" x2="444.7" y2="513.2" stroke="#000" stroke-width="2"/>
<line x1="439.5" y1="513.2" x2="449.9" y2="513.2" stroke="#000" stroke-width="2.2"/>
<line x1="471.7" y1="530.8" x2="471.7" y2="511.5" stroke="#000" stroke-width="2"/>
<line x1="466.5" y1="511.5" x2="476.9" y2="511.5" stroke="#000" stroke-width="2.2"/>
<line x1="525.7" y1="544.9" x2="525.7" y2="530.2" stroke="#000" stroke-width="2"/>
<line x1="520.5" y1="530.2" x2="530.9" y2="530.2" stroke="#000" stroke-width="2.2"/>
<line x1="552.7" y1="563.1" x2="552.7" y2="546.6" stroke="#000" stroke-width="2"/>
<line x1="547.5" y1="546.6" x2="557.9" y2="546.6" stroke="#000" stroke-width="2.2"/>
<line x1="552.7" y1="568.7" x2="552.7" y2="555.7" stroke="#000" stroke-width="2"/>
<line x1="547.5" y1="555.7" x2="557.9" y2="555.7" stroke="#000" stroke-width="2.2"/>
<line x1="552.7" y1="572.7" x2="552.7" y2="559.1" stroke="#000" stroke-width="2"/>
<line x1="547.5" y1="559.1" x2="557.9" y2="559.1" stroke="#000" stroke-width="2.2"/>
<line x1="579.7" y1="576.7" x2="579.7" y2="563.6" stroke="#000" stroke-width="2"/>
<line x1="574.5" y1="563.6" x2="584.9" y2="563.6" stroke="#000" stroke-width="2.2"/>
<line x1="606.7" y1="561.9" x2="606.7" y2="546.1" stroke="#000" stroke-width="2"/>
<line x1="601.5" y1="546.1" x2="611.9" y2="546.1" stroke="#000" stroke-width="2.2"/>
<line x1="633.7" y1="563.6" x2="633.7" y2="548.9" stroke="#000" stroke-width="2"/>
<line x1="628.5" y1="548.9" x2="638.9" y2="548.9" stroke="#000" stroke-width="2.2"/>
<line x1="660.7" y1="568.2" x2="660.7" y2="555.7" stroke="#000" stroke-width="2"/>
<line x1="655.5" y1="555.7" x2="665.9" y2="555.7" stroke="#000" stroke-width="2.2"/>
<line x1="687.7" y1="561.4" x2="687.7" y2="544.9" stroke="#000" stroke-width="2"/>
<line x1="682.5" y1="544.9" x2="692.9" y2="544.9" stroke="#000" stroke-width="2.2"/>
<line x1="687.7" y1="565.9" x2="687.7" y2="550.0" stroke="#000" stroke-width="2"/>
<line x1="682.5" y1="550.0" x2="692.9" y2="550.0" stroke="#000" stroke-width="2.2"/>
<line x1="714.7" y1="571.0" x2="714.7" y2="561.9" stroke="#000" stroke-width="2"/>
<line x1="709.5" y1="561.9" x2="719.9" y2="561.9" stroke="#000" stroke-width="2.2"/>
<line x1="741.7" y1="585.2" x2="741.7" y2="572.7" stroke="#000" stroke-width="2"/>
<line x1="736.5" y1="572.7" x2="746.9" y2="572.7" stroke="#000" stroke-width="2.2"/>
<line x1="741.7" y1="596.0" x2="741.7" y2="582.3" stroke="#000" stroke-width="2"/>
<line x1="736.5" y1="582.3" x2="746.9" y2="582.3" stroke="#000" stroke-width="2.2"/>
<rect x="114.4" y="640.7" width="12.6" height="12.6" fill="#000" stroke="#000" stroke-width="1.8"/>
<rect x="141.4" y="627.1" width="12.6" height="12.6" fill="#000" stroke="#000" stroke-width="1.8"/>
<rect x="168.4" y="603.3" width="12.6" height="12.6" fill="#000" stroke="#000" stroke-width="1.8"/>
<rect x="195.4" y="595.3" width="12.6" height="12.6" fill="#000" stroke="#000" stroke-width="1.8"/>
<rect x="222.4" y="606.1" width="12.6" height="12.6" fill="#000" stroke="#000" stroke-width="1.8"/>
<rect x="249.4" y="640.7" width="12.6" height="12.6" fill="#000" stroke="#000" stroke-width="1.8"/>
<rect x="276.4" y="637.9" width="12.6" height="12.6" fill="#000" stroke="#000" stroke-width="1.8"/>
<rect x="303.4" y="655.4" width="12.6" height="12.6" fill="#000" stroke="#000" stroke-width="1.8"/>
<rect x="330.4" y="645.8" width="12.6" height="12.6" fill="#000" stroke="#000" stroke-width="1.8"/>
<rect x="357.4" y="693.4" width="12.6" height="12.6" fill="#000" stroke="#000" stroke-width="1.8"/>
<rect x="384.4" y="679.8" width="12.6" height="12.6" fill="#000" stroke="#000" stroke-width="1.8"/>
<rect x="411.4" y="657.1" width="12.6" height="12.6" fill="#000" stroke="#000" stroke-width="1.8"/>
<rect x="438.4" y="519.3" width="12.6" height="12.6" fill="#000" stroke="#000" stroke-width="1.8"/>
<rect x="465.4" y="543.7" width="12.6" height="12.6" fill="#000" stroke="#000" stroke-width="1.8"/>
<rect x="492.4" y="560.7" width="12.6" height="12.6" fill="#000" stroke="#000" stroke-width="1.8"/>
<rect x="519.4" y="553.9" width="12.6" height="12.6" fill="#000" stroke="#000" stroke-width="1.8"/>
<rect x="546.4" y="556.8" width="12.6" height="12.6" fill="#000" stroke="#000" stroke-width="1.8"/>
<rect x="573.4" y="577.8" width="12.6" height="12.6" fill="#000" stroke="#000" stroke-width="1.8"/>
<rect x="600.4" y="555.6" width="12.6" height="12.6" fill="#000" stroke="#000" stroke-width="1.8"/>
<rect x="627.4" y="566.4" width="12.6" height="12.6" fill="#000" stroke="#000" stroke-width="1.8"/>
<rect x="654.4" y="569.2" width="12.6" height="12.6" fill="#000" stroke="#000" stroke-width="1.8"/>
<rect x="681.4" y="588.5" width="12.6" height="12.6" fill="#000" stroke="#000" stroke-width="1.8"/>
<rect x="708.4" y="597.6" width="12.6" height="12.6" fill="#000" stroke="#000" stroke-width="1.8"/>
<rect x="735.4" y="594.8" width="12.6" height="12.6" fill="#000" stroke="#000" stroke-width="1.8"/>
<rect x="114.4" y="665.1" width="12.6" height="12.6" fill="#787878" stroke="#000" stroke-width="1.8"/>
<rect x="141.4" y="651.5" width="12.6" height="12.6" fill="#787878" stroke="#000" stroke-width="1.8"/>
<rect x="168.4" y="627.6" width="12.6" height="12.6" fill="#787878" stroke="#000" stroke-width="1.8"/>
<rect x="195.4" y="633.3" width="12.6" height="12.6" fill="#787878" stroke="#000" stroke-width="1.8"/>
<rect x="222.4" y="648.6" width="12.6" height="12.6" fill="#787878" stroke="#000" stroke-width="1.8"/>
<rect x="249.4" y="645.2" width="12.6" height="12.6" fill="#787878" stroke="#000" stroke-width="1.8"/>
<rect x="276.4" y="654.3" width="12.6" height="12.6" fill="#787878" stroke="#000" stroke-width="1.8"/>
<rect x="303.4" y="660.0" width="12.6" height="12.6" fill="#787878" stroke="#000" stroke-width="1.8"/>
<rect x="330.4" y="676.4" width="12.6" height="12.6" fill="#787878" stroke="#000" stroke-width="1.8"/>
<rect x="357.4" y="707.6" width="12.6" height="12.6" fill="#787878" stroke="#000" stroke-width="1.8"/>
<rect x="384.4" y="687.2" width="12.6" height="12.6" fill="#787878" stroke="#000" stroke-width="1.8"/>
<rect x="411.4" y="679.8" width="12.6" height="12.6" fill="#787878" stroke="#000" stroke-width="1.8"/>
<rect x="438.4" y="526.7" width="12.6" height="12.6" fill="#787878" stroke="#000" stroke-width="1.8"/>
<rect x="465.4" y="524.5" width="12.6" height="12.6" fill="#787878" stroke="#000" stroke-width="1.8"/>
<rect x="492.4" y="552.2" width="12.6" height="12.6" fill="#787878" stroke="#000" stroke-width="1.8"/>
<rect x="519.4" y="560.7" width="12.6" height="12.6" fill="#787878" stroke="#000" stroke-width="1.8"/>
<rect x="546.4" y="563.6" width="12.6" height="12.6" fill="#787878" stroke="#000" stroke-width="1.8"/>
<rect x="573.4" y="577.8" width="12.6" height="12.6" fill="#787878" stroke="#000" stroke-width="1.8"/>
<rect x="600.4" y="562.4" width="12.6" height="12.6" fill="#787878" stroke="#000" stroke-width="1.8"/>
<rect x="627.4" y="569.8" width="12.6" height="12.6" fill="#787878" stroke="#000" stroke-width="1.8"/>
<rect x="654.4" y="583.4" width="12.6" height="12.6" fill="#787878" stroke="#000" stroke-width="1.8"/>
<rect x="681.4" y="566.4" width="12.6" height="12.6" fill="#787878" stroke="#000" stroke-width="1.8"/>
<rect x="708.4" y="564.7" width="12.6" height="12.6" fill="#787878" stroke="#000" stroke-width="1.8"/>
<rect x="735.4" y="589.7" width="12.6" height="12.6" fill="#787878" stroke="#000" stroke-width="1.8"/>
<circle cx="120.7" cy="673.6" r="6.6" fill="#fff" stroke="#000" stroke-width="1.8"/>
<circle cx="147.7" cy="656.6" r="6.6" fill="#fff" stroke="#000" stroke-width="1.8"/>
<circle cx="174.7" cy="649.8" r="6.6" fill="#fff" stroke="#000" stroke-width="1.8"/>
<circle cx="201.7" cy="653.8" r="6.6" fill="#fff" stroke="#000" stroke-width="1.8"/>
<circle cx="228.7" cy="625.4" r="6.6" fill="#fff" stroke="#000" stroke-width="1.8"/>
<circle cx="255.7" cy="664.6" r="6.6" fill="#fff" stroke="#000" stroke-width="1.8"/>
<circle cx="282.7" cy="654.9" r="6.6" fill="#fff" stroke="#000" stroke-width="1.8"/>
<circle cx="309.7" cy="668.5" r="6.6" fill="#fff" stroke="#000" stroke-width="1.8"/>
<circle cx="336.7" cy="660.6" r="6.6" fill="#fff" stroke="#000" stroke-width="1.8"/>
<circle cx="363.7" cy="683.3" r="6.6" fill="#fff" stroke="#000" stroke-width="1.8"/>
<circle cx="390.7" cy="711.1" r="6.6" fill="#fff" stroke="#000" stroke-width="1.8"/>
<circle cx="417.7" cy="672.5" r="6.6" fill="#fff" stroke="#000" stroke-width="1.8"/>
<circle cx="444.7" cy="541.5" r="6.6" fill="#fff" stroke="#000" stroke-width="1.8"/>
<circle cx="471.7" cy="542.7" r="6.6" fill="#fff" stroke="#000" stroke-width="1.8"/>
<circle cx="498.7" cy="546.6" r="6.6" fill="#fff" stroke="#000" stroke-width="1.8"/>
<circle cx="525.7" cy="569.3" r="6.6" fill="#fff" stroke="#000" stroke-width="1.8"/>
<circle cx="552.7" cy="572.7" r="6.6" fill="#fff" stroke="#000" stroke-width="1.8"/>
<circle cx="579.7" cy="576.7" r="6.6" fill="#fff" stroke="#000" stroke-width="1.8"/>
<circle cx="606.7" cy="568.7" r="6.6" fill="#fff" stroke="#000" stroke-width="1.8"/>
<circle cx="633.7" cy="600.5" r="6.6" fill="#fff" stroke="#000" stroke-width="1.8"/>
<circle cx="660.7" cy="569.3" r="6.6" fill="#fff" stroke="#000" stroke-width="1.8"/>
<circle cx="687.7" cy="561.4" r="6.6" fill="#fff" stroke="#000" stroke-width="1.8"/>
<circle cx="714.7" cy="578.4" r="6.6" fill="#fff" stroke="#000" stroke-width="1.8"/>
<circle cx="741.7" cy="586.3" r="6.6" fill="#fff" stroke="#000" stroke-width="1.8"/>
<circle cx="120.7" cy="632.2" r="6.6" fill="#0000ff" stroke="#000" stroke-width="1.8"/>
<circle cx="147.7" cy="619.8" r="6.6" fill="#0000ff" stroke="#000" stroke-width="1.8"/>
<circle cx="174.7" cy="614.1" r="6.6" fill="#0000ff" stroke="#000" stroke-width="1.8"/>
<circle cx="201.7" cy="606.2" r="6.6" fill="#0000ff" stroke="#000" stroke-width="1.8"/>
<circle cx="228.7" cy="605.0" r="6.6" fill="#0000ff" stroke="#000" stroke-width="1.8"/>
<circle cx="255.7" cy="631.7" r="6.6" fill="#0000ff" stroke="#000" stroke-width="1.8"/>
<circle cx="282.7" cy="616.9" r="6.6" fill="#0000ff" stroke="#000" stroke-width="1.8"/>
<circle cx="309.7" cy="635.1" r="6.6" fill="#0000ff" stroke="#000" stroke-width="1.8"/>
<circle cx="336.7" cy="644.2" r="6.6" fill="#0000ff" stroke="#000" stroke-width="1.8"/>
<circle cx="363.7" cy="683.3" r="6.6" fill="#0000ff" stroke="#000" stroke-width="1.8"/>
<circle cx="390.7" cy="684.4" r="6.6" fill="#0000ff" stroke="#000" stroke-width="1.8"/>
<circle cx="417.7" cy="656.6" r="6.6" fill="#0000ff" stroke="#000" stroke-width="1.8"/>
<circle cx="444.7" cy="547.2" r="6.6" fill="#0000ff" stroke="#000" stroke-width="1.8"/>
<circle cx="471.7" cy="557.4" r="6.6" fill="#0000ff" stroke="#000" stroke-width="1.8"/>
<circle cx="498.7" cy="557.4" r="6.6" fill="#0000ff" stroke="#000" stroke-width="1.8"/>
<circle cx="525.7" cy="569.9" r="6.6" fill="#0000ff" stroke="#000" stroke-width="1.8"/>
<circle cx="552.7" cy="568.7" r="6.6" fill="#0000ff" stroke="#000" stroke-width="1.8"/>
<circle cx="579.7" cy="585.8" r="6.6" fill="#0000ff" stroke="#000" stroke-width="1.8"/>
<circle cx="606.7" cy="577.8" r="6.6" fill="#0000ff" stroke="#000" stroke-width="1.8"/>
<circle cx="633.7" cy="590.3" r="6.6" fill="#0000ff" stroke="#000" stroke-width="1.8"/>
<circle cx="660.7" cy="568.2" r="6.6" fill="#0000ff" stroke="#000" stroke-width="1.8"/>
<circle cx="687.7" cy="565.9" r="6.6" fill="#0000ff" stroke="#000" stroke-width="1.8"/>
<circle cx="714.7" cy="577.8" r="6.6" fill="#0000ff" stroke="#000" stroke-width="1.8"/>
<circle cx="741.7" cy="610.1" r="6.6" fill="#0000ff" stroke="#000" stroke-width="1.8"/>
<rect x="114.4" y="620.3" width="12.6" height="12.6" fill="#da0000" stroke="#000" stroke-width="1.8"/>
<rect x="141.4" y="591.9" width="12.6" height="12.6" fill="#da0000" stroke="#000" stroke-width="1.8"/>
<rect x="168.4" y="603.3" width="12.6" height="12.6" fill="#da0000" stroke="#000" stroke-width="1.8"/>
<rect x="195.4" y="616.9" width="12.6" height="12.6" fill="#da0000" stroke="#000" stroke-width="1.8"/>
<rect x="222.4" y="608.9" width="12.6" height="12.6" fill="#da0000" stroke="#000" stroke-width="1.8"/>
<rect x="249.4" y="608.4" width="12.6" height="12.6" fill="#da0000" stroke="#000" stroke-width="1.8"/>
<rect x="276.4" y="626.5" width="12.6" height="12.6" fill="#da0000" stroke="#000" stroke-width="1.8"/>
<rect x="303.4" y="628.2" width="12.6" height="12.6" fill="#da0000" stroke="#000" stroke-width="1.8"/>
<rect x="330.4" y="665.6" width="12.6" height="12.6" fill="#da0000" stroke="#000" stroke-width="1.8"/>
<rect x="357.4" y="660.0" width="12.6" height="12.6" fill="#da0000" stroke="#000" stroke-width="1.8"/>
<rect x="384.4" y="674.1" width="12.6" height="12.6" fill="#da0000" stroke="#000" stroke-width="1.8"/>
<rect x="411.4" y="645.8" width="12.6" height="12.6" fill="#da0000" stroke="#000" stroke-width="1.8"/>
<rect x="438.4" y="562.4" width="12.6" height="12.6" fill="#da0000" stroke="#000" stroke-width="1.8"/>
<rect x="465.4" y="548.3" width="12.6" height="12.6" fill="#da0000" stroke="#000" stroke-width="1.8"/>
<rect x="492.4" y="567.0" width="12.6" height="12.6" fill="#da0000" stroke="#000" stroke-width="1.8"/>
<rect x="519.4" y="538.6" width="12.6" height="12.6" fill="#da0000" stroke="#000" stroke-width="1.8"/>
<rect x="546.4" y="575.5" width="12.6" height="12.6" fill="#da0000" stroke="#000" stroke-width="1.8"/>
<rect x="573.4" y="570.4" width="12.6" height="12.6" fill="#da0000" stroke="#000" stroke-width="1.8"/>
<rect x="600.4" y="580.0" width="12.6" height="12.6" fill="#da0000" stroke="#000" stroke-width="1.8"/>
<rect x="627.4" y="557.3" width="12.6" height="12.6" fill="#da0000" stroke="#000" stroke-width="1.8"/>
<rect x="654.4" y="581.7" width="12.6" height="12.6" fill="#da0000" stroke="#000" stroke-width="1.8"/>
<rect x="681.4" y="572.6" width="12.6" height="12.6" fill="#da0000" stroke="#000" stroke-width="1.8"/>
<rect x="708.4" y="585.1" width="12.6" height="12.6" fill="#da0000" stroke="#000" stroke-width="1.8"/>
<rect x="735.4" y="578.9" width="12.6" height="12.6" fill="#da0000" stroke="#000" stroke-width="1.8"/>
<line x1="107.2" y1="843.6" x2="107.2" y2="1204.8" stroke="#000" stroke-width="3"/>
<line x1="99.7" y1="843.6" x2="107.2" y2="843.6" stroke="#000" stroke-width="3.2"/>
<text x="94.9" y="853.9" font-size="29" text-anchor="end" fill="#000" stroke="#000" stroke-width="0.7" stroke-linejoin="round" textLength="33.5" lengthAdjust="spacingAndGlyphs">10</text>
<line x1="99.7" y1="1013.3" x2="107.2" y2="1013.3" stroke="#000" stroke-width="3.2"/>
<text x="94.9" y="1023.6" font-size="29" text-anchor="end" fill="#000" stroke="#000" stroke-width="0.7" stroke-linejoin="round" textLength="15.3" lengthAdjust="spacingAndGlyphs">5</text>
<line x1="99.7" y1="1183.0" x2="107.2" y2="1183.0" stroke="#000" stroke-width="3.2"/>
<text x="94.9" y="1193.3" font-size="29" text-anchor="end" fill="#000" stroke="#000" stroke-width="0.7" stroke-linejoin="round" textLength="15.3" lengthAdjust="spacingAndGlyphs">0</text>
<line x1="102.7" y1="928.5" x2="107.2" y2="928.5" stroke="#000" stroke-width="2.5"/>
<line x1="102.7" y1="1098.2" x2="107.2" y2="1098.2" stroke="#000" stroke-width="2.5"/>
<rect x="429.7" y="1183.0" width="325.8" height="11.8" fill="#fff" stroke="#000" stroke-width="2.9"/>
<rect x="105.7" y="1181.6" width="324.3" height="14.7" fill="#000"/>
<line x1="134.2" y1="1194.0" x2="134.2" y2="1201.2" stroke="#000" stroke-width="2.8"/>
<line x1="161.2" y1="1194.0" x2="161.2" y2="1201.2" stroke="#000" stroke-width="2.8"/>
<line x1="188.2" y1="1194.0" x2="188.2" y2="1201.2" stroke="#000" stroke-width="2.8"/>
<line x1="215.2" y1="1194.0" x2="215.2" y2="1201.2" stroke="#000" stroke-width="2.8"/>
<line x1="242.2" y1="1194.0" x2="242.2" y2="1201.2" stroke="#000" stroke-width="2.8"/>
<line x1="269.2" y1="1194.0" x2="269.2" y2="1204.8" stroke="#000" stroke-width="2.8"/>
<line x1="296.2" y1="1194.0" x2="296.2" y2="1201.2" stroke="#000" stroke-width="2.8"/>
<line x1="323.2" y1="1194.0" x2="323.2" y2="1201.2" stroke="#000" stroke-width="2.8"/>
<line x1="350.2" y1="1194.0" x2="350.2" y2="1201.2" stroke="#000" stroke-width="2.8"/>
<line x1="377.2" y1="1194.0" x2="377.2" y2="1201.2" stroke="#000" stroke-width="2.8"/>
<line x1="404.2" y1="1194.0" x2="404.2" y2="1201.2" stroke="#000" stroke-width="2.8"/>
<line x1="431.2" y1="1194.0" x2="431.2" y2="1204.8" stroke="#000" stroke-width="2.8"/>
<line x1="458.2" y1="1194.0" x2="458.2" y2="1201.2" stroke="#000" stroke-width="2.8"/>
<line x1="485.2" y1="1194.0" x2="485.2" y2="1201.2" stroke="#000" stroke-width="2.8"/>
<line x1="512.2" y1="1194.0" x2="512.2" y2="1201.2" stroke="#000" stroke-width="2.8"/>
<line x1="539.2" y1="1194.0" x2="539.2" y2="1201.2" stroke="#000" stroke-width="2.8"/>
<line x1="566.2" y1="1194.0" x2="566.2" y2="1201.2" stroke="#000" stroke-width="2.8"/>
<line x1="593.2" y1="1194.0" x2="593.2" y2="1204.8" stroke="#000" stroke-width="2.8"/>
<line x1="620.2" y1="1194.0" x2="620.2" y2="1201.2" stroke="#000" stroke-width="2.8"/>
<line x1="647.2" y1="1194.0" x2="647.2" y2="1201.2" stroke="#000" stroke-width="2.8"/>
<line x1="674.2" y1="1194.0" x2="674.2" y2="1201.2" stroke="#000" stroke-width="2.8"/>
<line x1="701.2" y1="1194.0" x2="701.2" y2="1201.2" stroke="#000" stroke-width="2.8"/>
<line x1="728.2" y1="1194.0" x2="728.2" y2="1201.2" stroke="#000" stroke-width="2.8"/>
<line x1="755.2" y1="1194.0" x2="755.2" y2="1204.8" stroke="#000" stroke-width="2.8"/>
<text x="206.0" y="875.9" font-size="49" text-anchor="start" fill="#000" stroke="#000" stroke-width="1.4" stroke-linejoin="round" textLength="109.4" lengthAdjust="spacingAndGlyphs">REM</text>
<polyline points="120.7,1055.3 147.7,1017.3 174.7,1017.9 201.7,1048.8 228.7,1033.5 255.7,1035.2 282.7,1032.5 309.7,1061.4 336.7,1038.0 363.7,1092.9 390.7,1128.2 417.7,1145.9 444.7,1141.8 471.7,1080.0 498.7,1041.0 525.7,1028.1 552.7,1028.1 579.7,1010.5 606.7,1000.3 633.7,982.3 660.7,953.8 687.7,1009.5 714.7,993.5 741.7,996.2" fill="none" stroke="#000" stroke-width="2"/>
<polyline points="120.7,1049.8 147.7,1033.2 174.7,1040.7 201.7,1033.5 228.7,1043.7 255.7,1050.2 282.7,1055.9 309.7,1053.6 336.7,1095.3 363.7,1147.2 390.7,1155.0 417.7,1102.4 444.7,1152.0 471.7,1123.5 498.7,1082.4 525.7,1068.8 552.7,1063.7 579.7,992.2 606.7,1022.7 633.7,999.6 660.7,982.3 687.7,1029.8 714.7,1006.1 741.7,1013.5" fill="none" stroke="#000" stroke-width="2"/>
<polyline points="120.7,1078.7 147.7,1048.8 174.7,1068.8 201.7,1060.0 228.7,1057.3 255.7,1057.0 282.7,1046.8 309.7,1053.6 336.7,1057.3 363.7,1134.0 390.7,1100.1 417.7,1107.9 444.7,1165.5 471.7,1118.0 498.7,1073.6 525.7,1051.9 552.7,1019.6 579.7,1052.9 606.7,1050.2 633.7,1019.6 660.7,990.5 687.7,1019.6 714.7,1022.0 741.7,1027.4" fill="none" stroke="#000" stroke-width="2"/>
<polyline points="120.7,1054.2 147.7,1031.5 174.7,1045.1 201.7,1074.3 228.7,1083.8 255.7,1051.5 282.7,1041.0 309.7,1051.2 336.7,1083.8 363.7,1110.2 390.7,1128.6 417.7,1110.2 444.7,1140.8 471.7,1089.9 498.7,1049.5 525.7,1065.8 552.7,1006.4 579.7,1022.4 606.7,1045.8 633.7,1019.3 660.7,973.2 687.7,1035.9 714.7,1008.1 741.7,981.0" fill="none" stroke="#000" stroke-width="2"/>
<polyline points="120.7,1024.4 147.7,1036.6 174.7,1060.0 201.7,1024.4 228.7,1014.5 255.7,1055.3 282.7,1013.2 309.7,1043.4 336.7,1065.8 363.7,1100.7 390.7,1142.5 417.7,1114.6 444.7,1151.6 471.7,1114.6 498.7,1083.4 525.7,1047.5 552.7,1060.4 579.7,1030.2 606.7,1031.9 633.7,1029.1 660.7,1019.3 687.7,1043.4 714.7,1002.7 741.7,975.5" fill="none" stroke="#000" stroke-width="2"/>
<line x1="120.7" y1="1024.4" x2="120.7" y2="988.8" stroke="#000" stroke-width="2"/>
<line x1="115.5" y1="988.8" x2="125.9" y2="988.8" stroke="#000" stroke-width="2.2"/>
<line x1="120.7" y1="1055.3" x2="120.7" y2="1043.4" stroke="#000" stroke-width="2"/>
<line x1="115.5" y1="1043.4" x2="125.9" y2="1043.4" stroke="#000" stroke-width="2.2"/>
<line x1="147.7" y1="1048.8" x2="147.7" y2="1003.0" stroke="#000" stroke-width="2"/>
<line x1="142.5" y1="1003.0" x2="152.9" y2="1003.0" stroke="#000" stroke-width="2.2"/>
<line x1="147.7" y1="1017.3" x2="147.7" y2="993.5" stroke="#000" stroke-width="2"/>
<line x1="142.5" y1="993.5" x2="152.9" y2="993.5" stroke="#000" stroke-width="2.2"/>
<line x1="147.7" y1="1031.5" x2="147.7" y2="1001.0" stroke="#000" stroke-width="2"/>
<line x1="142.5" y1="1001.0" x2="152.9" y2="1001.0" stroke="#000" stroke-width="2.2"/>
<line x1="174.7" y1="1017.9" x2="174.7" y2="977.9" stroke="#000" stroke-width="2"/>
<line x1="169.5" y1="977.9" x2="179.9" y2="977.9" stroke="#000" stroke-width="2.2"/>
<line x1="174.7" y1="1040.7" x2="174.7" y2="1006.7" stroke="#000" stroke-width="2"/>
<line x1="169.5" y1="1006.7" x2="179.9" y2="1006.7" stroke="#000" stroke-width="2.2"/>
<line x1="201.7" y1="1024.4" x2="201.7" y2="1014.2" stroke="#000" stroke-width="2"/>
<line x1="196.5" y1="1014.2" x2="206.9" y2="1014.2" stroke="#000" stroke-width="2.2"/>
<line x1="201.7" y1="1048.8" x2="201.7" y2="986.4" stroke="#000" stroke-width="2"/>
<line x1="196.5" y1="986.4" x2="206.9" y2="986.4" stroke="#000" stroke-width="2.2"/>
<line x1="201.7" y1="1033.5" x2="201.7" y2="994.9" stroke="#000" stroke-width="2"/>
<line x1="196.5" y1="994.9" x2="206.9" y2="994.9" stroke="#000" stroke-width="2.2"/>
<line x1="228.7" y1="1014.5" x2="228.7" y2="972.1" stroke="#000" stroke-width="2"/>
<line x1="223.5" y1="972.1" x2="233.9" y2="972.1" stroke="#000" stroke-width="2.2"/>
<line x1="228.7" y1="1033.5" x2="228.7" y2="1001.7" stroke="#000" stroke-width="2"/>
<line x1="223.5" y1="1001.7" x2="233.9" y2="1001.7" stroke="#000" stroke-width="2.2"/>
<line x1="255.7" y1="1035.2" x2="255.7" y2="1006.4" stroke="#000" stroke-width="2"/>
<line x1="250.5" y1="1006.4" x2="260.9" y2="1006.4" stroke="#000" stroke-width="2.2"/>
<line x1="255.7" y1="1050.2" x2="255.7" y2="1010.1" stroke="#000" stroke-width="2"/>
<line x1="250.5" y1="1010.1" x2="260.9" y2="1010.1" stroke="#000" stroke-width="2.2"/>
<line x1="282.7" y1="1013.2" x2="282.7" y2="972.5" stroke="#000" stroke-width="2"/>
<line x1="277.5" y1="972.5" x2="287.9" y2="972.5" stroke="#000" stroke-width="2.2"/>
<line x1="282.7" y1="1032.5" x2="282.7" y2="1015.6" stroke="#000" stroke-width="2"/>
<line x1="277.5" y1="1015.6" x2="287.9" y2="1015.6" stroke="#000" stroke-width="2.2"/>
<line x1="309.7" y1="1043.4" x2="309.7" y2="1011.2" stroke="#000" stroke-width="2"/>
<line x1="304.5" y1="1011.2" x2="314.9" y2="1011.2" stroke="#000" stroke-width="2.2"/>
<line x1="309.7" y1="1061.4" x2="309.7" y2="1017.3" stroke="#000" stroke-width="2"/>
<line x1="304.5" y1="1017.3" x2="314.9" y2="1017.3" stroke="#000" stroke-width="2.2"/>
<line x1="309.7" y1="1051.2" x2="309.7" y2="1017.3" stroke="#000" stroke-width="2"/>
<line x1="304.5" y1="1017.3" x2="314.9" y2="1017.3" stroke="#000" stroke-width="2.2"/>
<line x1="336.7" y1="1038.0" x2="336.7" y2="1009.5" stroke="#000" stroke-width="2"/>
<line x1="331.5" y1="1009.5" x2="341.9" y2="1009.5" stroke="#000" stroke-width="2.2"/>
<line x1="363.7" y1="1092.9" x2="363.7" y2="1060.7" stroke="#000" stroke-width="2"/>
<line x1="358.5" y1="1060.7" x2="368.9" y2="1060.7" stroke="#000" stroke-width="2.2"/>
<line x1="363.7" y1="1110.2" x2="363.7" y2="1079.7" stroke="#000" stroke-width="2"/>
<line x1="358.5" y1="1079.7" x2="368.9" y2="1079.7" stroke="#000" stroke-width="2.2"/>
<line x1="390.7" y1="1100.1" x2="390.7" y2="1065.1" stroke="#000" stroke-width="2"/>
<line x1="385.5" y1="1065.1" x2="395.9" y2="1065.1" stroke="#000" stroke-width="2.2"/>
<line x1="390.7" y1="1128.6" x2="390.7" y2="1114.0" stroke="#000" stroke-width="2"/>
<line x1="385.5" y1="1114.0" x2="395.9" y2="1114.0" stroke="#000" stroke-width="2.2"/>
<line x1="417.7" y1="1102.4" x2="417.7" y2="1078.7" stroke="#000" stroke-width="2"/>
<line x1="412.5" y1="1078.7" x2="422.9" y2="1078.7" stroke="#000" stroke-width="2.2"/>
<line x1="417.7" y1="1145.9" x2="417.7" y2="1127.2" stroke="#000" stroke-width="2"/>
<line x1="412.5" y1="1127.2" x2="422.9" y2="1127.2" stroke="#000" stroke-width="2.2"/>
<line x1="444.7" y1="1140.8" x2="444.7" y2="1134.0" stroke="#000" stroke-width="2"/>
<line x1="439.5" y1="1134.0" x2="449.9" y2="1134.0" stroke="#000" stroke-width="2.2"/>
<line x1="525.7" y1="1047.5" x2="525.7" y2="1030.5" stroke="#000" stroke-width="2"/>
<line x1="520.5" y1="1030.5" x2="530.9" y2="1030.5" stroke="#000" stroke-width="2.2"/>
<line x1="336.7" y1="1065.8" x2="336.7" y2="1059.0" stroke="#000" stroke-width="2"/>
<line x1="331.5" y1="1059.0" x2="341.9" y2="1059.0" stroke="#000" stroke-width="2.2"/>
<line x1="471.7" y1="1118.0" x2="471.7" y2="1104.5" stroke="#000" stroke-width="2"/>
<line x1="466.5" y1="1104.5" x2="476.9" y2="1104.5" stroke="#000" stroke-width="2.2"/>
<line x1="471.7" y1="1080.0" x2="471.7" y2="1052.9" stroke="#000" stroke-width="2"/>
<line x1="466.5" y1="1052.9" x2="476.9" y2="1052.9" stroke="#000" stroke-width="2.2"/>
<line x1="498.7" y1="1041.0" x2="498.7" y2="1017.3" stroke="#000" stroke-width="2"/>
<line x1="493.5" y1="1017.3" x2="503.9" y2="1017.3" stroke="#000" stroke-width="2.2"/>
<line x1="525.7" y1="1028.1" x2="525.7" y2="1008.4" stroke="#000" stroke-width="2"/>
<line x1="520.5" y1="1008.4" x2="530.9" y2="1008.4" stroke="#000" stroke-width="2.2"/>
<line x1="552.7" y1="1006.4" x2="552.7" y2="967.0" stroke="#000" stroke-width="2"/>
<line x1="547.5" y1="967.0" x2="557.9" y2="967.0" stroke="#000" stroke-width="2.2"/>
<line x1="579.7" y1="992.2" x2="579.7" y2="945.7" stroke="#000" stroke-width="2"/>
<line x1="574.5" y1="945.7" x2="584.9" y2="945.7" stroke="#000" stroke-width="2.2"/>
<line x1="606.7" y1="1000.3" x2="606.7" y2="976.9" stroke="#000" stroke-width="2"/>
<line x1="601.5" y1="976.9" x2="611.9" y2="976.9" stroke="#000" stroke-width="2.2"/>
<line x1="633.7" y1="982.3" x2="633.7" y2="946.7" stroke="#000" stroke-width="2"/>
<line x1="628.5" y1="946.7" x2="638.9" y2="946.7" stroke="#000" stroke-width="2.2"/>
<line x1="633.7" y1="999.6" x2="633.7" y2="951.4" stroke="#000" stroke-width="2"/>
<line x1="628.5" y1="951.4" x2="638.9" y2="951.4" stroke="#000" stroke-width="2.2"/>
<line x1="660.7" y1="953.8" x2="660.7" y2="918.9" stroke="#000" stroke-width="2"/>
<line x1="655.5" y1="918.9" x2="665.9" y2="918.9" stroke="#000" stroke-width="2.2"/>
<line x1="660.7" y1="973.2" x2="660.7" y2="929.4" stroke="#000" stroke-width="2"/>
<line x1="655.5" y1="929.4" x2="665.9" y2="929.4" stroke="#000" stroke-width="2.2"/>
<line x1="687.7" y1="1009.5" x2="687.7" y2="987.1" stroke="#000" stroke-width="2"/>
<line x1="682.5" y1="987.1" x2="692.9" y2="987.1" stroke="#000" stroke-width="2.2"/>
<line x1="687.7" y1="1043.4" x2="687.7" y2="1019.6" stroke="#000" stroke-width="2"/>
<line x1="682.5" y1="1019.6" x2="692.9" y2="1019.6" stroke="#000" stroke-width="2.2"/>
<line x1="714.7" y1="993.5" x2="714.7" y2="968.4" stroke="#000" stroke-width="2"/>
<line x1="709.5" y1="968.4" x2="719.9" y2="968.4" stroke="#000" stroke-width="2.2"/>
<line x1="714.7" y1="1008.1" x2="714.7" y2="977.6" stroke="#000" stroke-width="2"/>
<line x1="709.5" y1="977.6" x2="719.9" y2="977.6" stroke="#000" stroke-width="2.2"/>
<line x1="741.7" y1="975.5" x2="741.7" y2="931.8" stroke="#000" stroke-width="2"/>
<line x1="736.5" y1="931.8" x2="746.9" y2="931.8" stroke="#000" stroke-width="2.2"/>
<line x1="741.7" y1="981.0" x2="741.7" y2="941.9" stroke="#000" stroke-width="2"/>
<line x1="736.5" y1="941.9" x2="746.9" y2="941.9" stroke="#000" stroke-width="2.2"/>
<line x1="741.7" y1="996.2" x2="741.7" y2="955.2" stroke="#000" stroke-width="2"/>
<line x1="736.5" y1="955.2" x2="746.9" y2="955.2" stroke="#000" stroke-width="2.2"/>
<rect x="114.4" y="1072.4" width="12.6" height="12.6" fill="#000" stroke="#000" stroke-width="1.8"/>
<rect x="141.4" y="1042.5" width="12.6" height="12.6" fill="#000" stroke="#000" stroke-width="1.8"/>
<rect x="168.4" y="1062.5" width="12.6" height="12.6" fill="#000" stroke="#000" stroke-width="1.8"/>
<rect x="195.4" y="1053.7" width="12.6" height="12.6" fill="#000" stroke="#000" stroke-width="1.8"/>
<rect x="222.4" y="1051.0" width="12.6" height="12.6" fill="#000" stroke="#000" stroke-width="1.8"/>
<rect x="249.4" y="1050.7" width="12.6" height="12.6" fill="#000" stroke="#000" stroke-width="1.8"/>
<rect x="276.4" y="1040.5" width="12.6" height="12.6" fill="#000" stroke="#000" stroke-width="1.8"/>
<rect x="303.4" y="1047.3" width="12.6" height="12.6" fill="#000" stroke="#000" stroke-width="1.8"/>
<rect x="330.4" y="1051.0" width="12.6" height="12.6" fill="#000" stroke="#000" stroke-width="1.8"/>
<rect x="357.4" y="1127.7" width="12.6" height="12.6" fill="#000" stroke="#000" stroke-width="1.8"/>
<rect x="384.4" y="1093.8" width="12.6" height="12.6" fill="#000" stroke="#000" stroke-width="1.8"/>
<rect x="411.4" y="1101.6" width="12.6" height="12.6" fill="#000" stroke="#000" stroke-width="1.8"/>
<rect x="438.4" y="1159.2" width="12.6" height="12.6" fill="#000" stroke="#000" stroke-width="1.8"/>
<rect x="465.4" y="1111.7" width="12.6" height="12.6" fill="#000" stroke="#000" stroke-width="1.8"/>
<rect x="492.4" y="1067.3" width="12.6" height="12.6" fill="#000" stroke="#000" stroke-width="1.8"/>
<rect x="519.4" y="1045.6" width="12.6" height="12.6" fill="#000" stroke="#000" stroke-width="1.8"/>
<rect x="546.4" y="1013.3" width="12.6" height="12.6" fill="#000" stroke="#000" stroke-width="1.8"/>
<rect x="573.4" y="1046.6" width="12.6" height="12.6" fill="#000" stroke="#000" stroke-width="1.8"/>
<rect x="600.4" y="1043.9" width="12.6" height="12.6" fill="#000" stroke="#000" stroke-width="1.8"/>
<rect x="627.4" y="1013.3" width="12.6" height="12.6" fill="#000" stroke="#000" stroke-width="1.8"/>
<rect x="654.4" y="984.2" width="12.6" height="12.6" fill="#000" stroke="#000" stroke-width="1.8"/>
<rect x="681.4" y="1013.3" width="12.6" height="12.6" fill="#000" stroke="#000" stroke-width="1.8"/>
<rect x="708.4" y="1015.7" width="12.6" height="12.6" fill="#000" stroke="#000" stroke-width="1.8"/>
<rect x="735.4" y="1021.1" width="12.6" height="12.6" fill="#000" stroke="#000" stroke-width="1.8"/>
<rect x="114.4" y="1043.5" width="12.6" height="12.6" fill="#787878" stroke="#000" stroke-width="1.8"/>
<rect x="141.4" y="1026.9" width="12.6" height="12.6" fill="#787878" stroke="#000" stroke-width="1.8"/>
<rect x="168.4" y="1034.4" width="12.6" height="12.6" fill="#787878" stroke="#000" stroke-width="1.8"/>
<rect x="195.4" y="1027.2" width="12.6" height="12.6" fill="#787878" stroke="#000" stroke-width="1.8"/>
<rect x="222.4" y="1037.4" width="12.6" height="12.6" fill="#787878" stroke="#000" stroke-width="1.8"/>
<rect x="249.4" y="1043.9" width="12.6" height="12.6" fill="#787878" stroke="#000" stroke-width="1.8"/>
<rect x="276.4" y="1049.6" width="12.6" height="12.6" fill="#787878" stroke="#000" stroke-width="1.8"/>
<rect x="303.4" y="1047.3" width="12.6" height="12.6" fill="#787878" stroke="#000" stroke-width="1.8"/>
<rect x="330.4" y="1089.0" width="12.6" height="12.6" fill="#787878" stroke="#000" stroke-width="1.8"/>
<rect x="357.4" y="1140.9" width="12.6" height="12.6" fill="#787878" stroke="#000" stroke-width="1.8"/>
<rect x="384.4" y="1148.7" width="12.6" height="12.6" fill="#787878" stroke="#000" stroke-width="1.8"/>
<rect x="411.4" y="1096.1" width="12.6" height="12.6" fill="#787878" stroke="#000" stroke-width="1.8"/>
<rect x="438.4" y="1145.7" width="12.6" height="12.6" fill="#787878" stroke="#000" stroke-width="1.8"/>
<rect x="465.4" y="1117.2" width="12.6" height="12.6" fill="#787878" stroke="#000" stroke-width="1.8"/>
<rect x="492.4" y="1076.1" width="12.6" height="12.6" fill="#787878" stroke="#000" stroke-width="1.8"/>
<rect x="519.4" y="1062.5" width="12.6" height="12.6" fill="#787878" stroke="#000" stroke-width="1.8"/>
<rect x="546.4" y="1057.4" width="12.6" height="12.6" fill="#787878" stroke="#000" stroke-width="1.8"/>
<rect x="573.4" y="985.9" width="12.6" height="12.6" fill="#787878" stroke="#000" stroke-width="1.8"/>
<rect x="600.4" y="1016.4" width="12.6" height="12.6" fill="#787878" stroke="#000" stroke-width="1.8"/>
<rect x="627.4" y="993.3" width="12.6" height="12.6" fill="#787878" stroke="#000" stroke-width="1.8"/>
<rect x="654.4" y="976.0" width="12.6" height="12.6" fill="#787878" stroke="#000" stroke-width="1.8"/>
<rect x="681.4" y="1023.5" width="12.6" height="12.6" fill="#787878" stroke="#000" stroke-width="1.8"/>
<rect x="708.4" y="999.8" width="12.6" height="12.6" fill="#787878" stroke="#000" stroke-width="1.8"/>
<rect x="735.4" y="1007.2" width="12.6" height="12.6" fill="#787878" stroke="#000" stroke-width="1.8"/>
<circle cx="120.7" cy="1055.3" r="6.6" fill="#fff" stroke="#000" stroke-width="1.8"/>
<circle cx="147.7" cy="1017.3" r="6.6" fill="#fff" stroke="#000" stroke-width="1.8"/>
<circle cx="174.7" cy="1017.9" r="6.6" fill="#fff" stroke="#000" stroke-width="1.8"/>
<circle cx="201.7" cy="1048.8" r="6.6" fill="#fff" stroke="#000" stroke-width="1.8"/>
<circle cx="228.7" cy="1033.5" r="6.6" fill="#fff" stroke="#000" stroke-width="1.8"/>
<circle cx="255.7" cy="1035.2" r="6.6" fill="#fff" stroke="#000" stroke-width="1.8"/>
<circle cx="282.7" cy="1032.5" r="6.6" fill="#fff" stroke="#000" stroke-width="1.8"/>
<circle cx="309.7" cy="1061.4" r="6.6" fill="#fff" stroke="#000" stroke-width="1.8"/>
<circle cx="336.7" cy="1038.0" r="6.6" fill="#fff" stroke="#000" stroke-width="1.8"/>
<circle cx="363.7" cy="1092.9" r="6.6" fill="#fff" stroke="#000" stroke-width="1.8"/>
<circle cx="390.7" cy="1128.2" r="6.6" fill="#fff" stroke="#000" stroke-width="1.8"/>
<circle cx="417.7" cy="1145.9" r="6.6" fill="#fff" stroke="#000" stroke-width="1.8"/>
<circle cx="444.7" cy="1141.8" r="6.6" fill="#fff" stroke="#000" stroke-width="1.8"/>
<circle cx="471.7" cy="1080.0" r="6.6" fill="#fff" stroke="#000" stroke-width="1.8"/>
<circle cx="498.7" cy="1041.0" r="6.6" fill="#fff" stroke="#000" stroke-width="1.8"/>
<circle cx="525.7" cy="1028.1" r="6.6" fill="#fff" stroke="#000" stroke-width="1.8"/>
<circle cx="552.7" cy="1028.1" r="6.6" fill="#fff" stroke="#000" stroke-width="1.8"/>
<circle cx="579.7" cy="1010.5" r="6.6" fill="#fff" stroke="#000" stroke-width="1.8"/>
<circle cx="606.7" cy="1000.3" r="6.6" fill="#fff" stroke="#000" stroke-width="1.8"/>
<circle cx="633.7" cy="982.3" r="6.6" fill="#fff" stroke="#000" stroke-width="1.8"/>
<circle cx="660.7" cy="953.8" r="6.6" fill="#fff" stroke="#000" stroke-width="1.8"/>
<circle cx="687.7" cy="1009.5" r="6.6" fill="#fff" stroke="#000" stroke-width="1.8"/>
<circle cx="714.7" cy="993.5" r="6.6" fill="#fff" stroke="#000" stroke-width="1.8"/>
<circle cx="741.7" cy="996.2" r="6.6" fill="#fff" stroke="#000" stroke-width="1.8"/>
<circle cx="120.7" cy="1024.4" r="6.6" fill="#0000ff" stroke="#000" stroke-width="1.8"/>
<circle cx="147.7" cy="1036.6" r="6.6" fill="#0000ff" stroke="#000" stroke-width="1.8"/>
<circle cx="174.7" cy="1060.0" r="6.6" fill="#0000ff" stroke="#000" stroke-width="1.8"/>
<circle cx="201.7" cy="1024.4" r="6.6" fill="#0000ff" stroke="#000" stroke-width="1.8"/>
<circle cx="228.7" cy="1014.5" r="6.6" fill="#0000ff" stroke="#000" stroke-width="1.8"/>
<circle cx="255.7" cy="1055.3" r="6.6" fill="#0000ff" stroke="#000" stroke-width="1.8"/>
<circle cx="282.7" cy="1013.2" r="6.6" fill="#0000ff" stroke="#000" stroke-width="1.8"/>
<circle cx="309.7" cy="1043.4" r="6.6" fill="#0000ff" stroke="#000" stroke-width="1.8"/>
<circle cx="336.7" cy="1065.8" r="6.6" fill="#0000ff" stroke="#000" stroke-width="1.8"/>
<circle cx="363.7" cy="1100.7" r="6.6" fill="#0000ff" stroke="#000" stroke-width="1.8"/>
<circle cx="390.7" cy="1142.5" r="6.6" fill="#0000ff" stroke="#000" stroke-width="1.8"/>
<circle cx="417.7" cy="1114.6" r="6.6" fill="#0000ff" stroke="#000" stroke-width="1.8"/>
<circle cx="444.7" cy="1151.6" r="6.6" fill="#0000ff" stroke="#000" stroke-width="1.8"/>
<circle cx="471.7" cy="1114.6" r="6.6" fill="#0000ff" stroke="#000" stroke-width="1.8"/>
<circle cx="498.7" cy="1083.4" r="6.6" fill="#0000ff" stroke="#000" stroke-width="1.8"/>
<circle cx="525.7" cy="1047.5" r="6.6" fill="#0000ff" stroke="#000" stroke-width="1.8"/>
<circle cx="552.7" cy="1060.4" r="6.6" fill="#0000ff" stroke="#000" stroke-width="1.8"/>
<circle cx="579.7" cy="1030.2" r="6.6" fill="#0000ff" stroke="#000" stroke-width="1.8"/>
<circle cx="606.7" cy="1031.9" r="6.6" fill="#0000ff" stroke="#000" stroke-width="1.8"/>
<circle cx="633.7" cy="1029.1" r="6.6" fill="#0000ff" stroke="#000" stroke-width="1.8"/>
<circle cx="660.7" cy="1019.3" r="6.6" fill="#0000ff" stroke="#000" stroke-width="1.8"/>
<circle cx="687.7" cy="1043.4" r="6.6" fill="#0000ff" stroke="#000" stroke-width="1.8"/>
<circle cx="714.7" cy="1002.7" r="6.6" fill="#0000ff" stroke="#000" stroke-width="1.8"/>
<circle cx="741.7" cy="975.5" r="6.6" fill="#0000ff" stroke="#000" stroke-width="1.8"/>
<rect x="114.4" y="1047.9" width="12.6" height="12.6" fill="#da0000" stroke="#000" stroke-width="1.8"/>
<rect x="141.4" y="1025.2" width="12.6" height="12.6" fill="#da0000" stroke="#000" stroke-width="1.8"/>
<rect x="168.4" y="1038.8" width="12.6" height="12.6" fill="#da0000" stroke="#000" stroke-width="1.8"/>
<rect x="195.4" y="1068.0" width="12.6" height="12.6" fill="#da0000" stroke="#000" stroke-width="1.8"/>
<rect x="222.4" y="1077.5" width="12.6" height="12.6" fill="#da0000" stroke="#000" stroke-width="1.8"/>
<rect x="249.4" y="1045.2" width="12.6" height="12.6" fill="#da0000" stroke="#000" stroke-width="1.8"/>
<rect x="276.4" y="1034.7" width="12.6" height="12.6" fill="#da0000" stroke="#000" stroke-width="1.8"/>
<rect x="303.4" y="1044.9" width="12.6" height="12.6" fill="#da0000" stroke="#000" stroke-width="1.8"/>
<rect x="330.4" y="1077.5" width="12.6" height="12.6" fill="#da0000" stroke="#000" stroke-width="1.8"/>
<rect x="357.4" y="1103.9" width="12.6" height="12.6" fill="#da0000" stroke="#000" stroke-width="1.8"/>
<rect x="384.4" y="1122.3" width="12.6" height="12.6" fill="#da0000" stroke="#000" stroke-width="1.8"/>
<rect x="411.4" y="1103.9" width="12.6" height="12.6" fill="#da0000" stroke="#000" stroke-width="1.8"/>
<rect x="438.4" y="1134.5" width="12.6" height="12.6" fill="#da0000" stroke="#000" stroke-width="1.8"/>
<rect x="465.4" y="1083.6" width="12.6" height="12.6" fill="#da0000" stroke="#000" stroke-width="1.8"/>
<rect x="492.4" y="1043.2" width="12.6" height="12.6" fill="#da0000" stroke="#000" stroke-width="1.8"/>
<rect x="519.4" y="1059.5" width="12.6" height="12.6" fill="#da0000" stroke="#000" stroke-width="1.8"/>
<rect x="546.4" y="1000.1" width="12.6" height="12.6" fill="#da0000" stroke="#000" stroke-width="1.8"/>
<rect x="573.4" y="1016.1" width="12.6" height="12.6" fill="#da0000" stroke="#000" stroke-width="1.8"/>
<rect x="600.4" y="1039.5" width="12.6" height="12.6" fill="#da0000" stroke="#000" stroke-width="1.8"/>
<rect x="627.4" y="1013.0" width="12.6" height="12.6" fill="#da0000" stroke="#000" stroke-width="1.8"/>
<rect x="654.4" y="966.9" width="12.6" height="12.6" fill="#da0000" stroke="#000" stroke-width="1.8"/>
<rect x="681.4" y="1029.6" width="12.6" height="12.6" fill="#da0000" stroke="#000" stroke-width="1.8"/>
<rect x="708.4" y="1001.8" width="12.6" height="12.6" fill="#da0000" stroke="#000" stroke-width="1.8"/>
<rect x="735.4" y="974.7" width="12.6" height="12.6" fill="#da0000" stroke="#000" stroke-width="1.8"/>
<path d="M121.00,257.70 L121.00,250.10 M121.00,257.70 L128.23,255.35 M121.00,257.70 L113.77,255.35 M121.00,257.70 L125.23,263.52 M121.00,257.70 L116.77,263.52" stroke="#da0000" stroke-width="3.6" fill="none"/>
<path d="M121.00,273.70 L121.00,266.10 M121.00,273.70 L128.23,271.35 M121.00,273.70 L113.77,271.35 M121.00,273.70 L125.23,279.52 M121.00,273.70 L116.77,279.52" stroke="#da0000" stroke-width="3.6" fill="none"/>
<path d="M121.00,296.70 L121.00,289.10 M121.00,296.70 L128.23,294.35 M121.00,296.70 L113.77,294.35 M121.00,296.70 L125.23,302.52 M121.00,296.70 L116.77,302.52" stroke="#0000ff" stroke-width="3.6" fill="none"/>
<path d="M148.10,273.70 L148.10,266.10 M148.10,273.70 L155.33,271.35 M148.10,273.70 L140.87,271.35 M148.10,273.70 L152.33,279.52 M148.10,273.70 L143.87,279.52" stroke="#da0000" stroke-width="3.6" fill="none"/>
<path d="M202.00,273.70 L202.00,266.10 M202.00,273.70 L209.23,271.35 M202.00,273.70 L194.77,271.35 M202.00,273.70 L206.23,279.52 M202.00,273.70 L197.77,279.52" stroke="#000" stroke-width="3.6" fill="none"/>
<path d="M202.00,296.70 L202.00,289.10 M202.00,296.70 L209.23,294.35 M202.00,296.70 L194.77,294.35 M202.00,296.70 L206.23,302.52 M202.00,296.70 L197.77,302.52" stroke="#0000ff" stroke-width="3.6" fill="none"/>
<path d="M256.00,273.70 L256.00,266.10 M256.00,273.70 L263.23,271.35 M256.00,273.70 L248.77,271.35 M256.00,273.70 L260.23,279.52 M256.00,273.70 L251.77,279.52" stroke="#da0000" stroke-width="3.6" fill="none"/>
<path d="M121.00,525.20 L121.00,517.60 M121.00,525.20 L128.23,522.85 M121.00,525.20 L113.77,522.85 M121.00,525.20 L125.23,531.02 M121.00,525.20 L116.77,531.02" stroke="#0000ff" stroke-width="3.6" fill="none"/>
<path d="M121.00,549.50 L121.00,541.90 M121.00,549.50 L128.23,547.15 M121.00,549.50 L113.77,547.15 M121.00,549.50 L125.23,555.32 M121.00,549.50 L116.77,555.32" stroke="#da0000" stroke-width="3.6" fill="none"/>
<path d="M121.00,565.10 L121.00,557.50 M121.00,565.10 L128.23,562.75 M121.00,565.10 L113.77,562.75 M121.00,565.10 L125.23,570.92 M121.00,565.10 L116.77,570.92" stroke="#da0000" stroke-width="3.6" fill="none"/>
<path d="M148.10,549.50 L148.10,541.90 M148.10,549.50 L155.33,547.15 M148.10,549.50 L140.87,547.15 M148.10,549.50 L152.33,555.32 M148.10,549.50 L143.87,555.32" stroke="#da0000" stroke-width="3.6" fill="none"/>
<path d="M148.10,565.10 L148.10,557.50 M148.10,565.10 L155.33,562.75 M148.10,565.10 L140.87,562.75 M148.10,565.10 L152.33,570.92 M148.10,565.10 L143.87,570.92" stroke="#da0000" stroke-width="3.6" fill="none"/>
<path d="M202.00,525.20 L202.00,517.60 M202.00,525.20 L209.23,522.85 M202.00,525.20 L194.77,522.85 M202.00,525.20 L206.23,531.02 M202.00,525.20 L197.77,531.02" stroke="#0000ff" stroke-width="3.6" fill="none"/>
<path d="M202.00,549.50 L202.00,541.90 M202.00,549.50 L209.23,547.15 M202.00,549.50 L194.77,547.15 M202.00,549.50 L206.23,555.32 M202.00,549.50 L197.77,555.32" stroke="#000" stroke-width="3.6" fill="none"/>
<path d="M202.00,565.10 L202.00,557.50 M202.00,565.10 L209.23,562.75 M202.00,565.10 L194.77,562.75 M202.00,565.10 L206.23,570.92 M202.00,565.10 L197.77,570.92" stroke="#000" stroke-width="3.6" fill="none"/>
<path d="M256.00,565.10 L256.00,557.50 M256.00,565.10 L263.23,562.75 M256.00,565.10 L248.77,562.75 M256.00,565.10 L260.23,570.92 M256.00,565.10 L251.77,570.92" stroke="#da0000" stroke-width="3.6" fill="none"/>
<text x="107.2" y="1236.4" font-size="29" text-anchor="middle" fill="#000" stroke="#000" stroke-width="0.6" stroke-linejoin="round" textLength="74.5" lengthAdjust="spacingAndGlyphs">20:00</text>
<text x="269.2" y="1236.4" font-size="29" text-anchor="middle" fill="#000" stroke="#000" stroke-width="0.6" stroke-linejoin="round" textLength="74.5" lengthAdjust="spacingAndGlyphs">02:00</text>
<text x="431.2" y="1236.4" font-size="29" text-anchor="middle" fill="#000" stroke="#000" stroke-width="0.6" stroke-linejoin="round" textLength="74.5" lengthAdjust="spacingAndGlyphs">08:00</text>
<text x="593.2" y="1236.4" font-size="29" text-anchor="middle" fill="#000" stroke="#000" stroke-width="0.6" stroke-linejoin="round" textLength="74.5" lengthAdjust="spacingAndGlyphs">14:00</text>
<text x="755.2" y="1236.4" font-size="29" text-anchor="middle" fill="#000" stroke="#000" stroke-width="0.6" stroke-linejoin="round" textLength="74.5" lengthAdjust="spacingAndGlyphs">20:00</text>
<text x="292.2" y="1286.2" font-size="48.5" text-anchor="start" fill="#000" stroke="#000" stroke-width="1.2" stroke-linejoin="round" textLength="256.0" lengthAdjust="spacingAndGlyphs">Clock time</text>
<text x="0" y="0" stroke="#000" stroke-width="1.1" font-size="49.5" textLength="790" lengthAdjust="spacingAndGlyphs" transform="translate(41.5,1026.3) rotate(-90)">Time spent in each stage (min/h)</text>
<line x1="535" y1="33.6" x2="574" y2="33.6" stroke="#000" stroke-width="1.6"/>
<circle cx="555.0" cy="33.6" r="6.8" fill="#fff" stroke="#000" stroke-width="1.8"/>
<text x="581.7" y="40.3" font-size="22" text-anchor="start" fill="#000" stroke="#000" stroke-width="0.5" stroke-linejoin="round" textLength="73.0" lengthAdjust="spacingAndGlyphs">Vehicle</text>
<line x1="535" y1="61.7" x2="574" y2="61.7" stroke="#000" stroke-width="1.6"/>
<rect x="548.5" y="55.2" width="13.0" height="13.0" fill="#787878" stroke="#000" stroke-width="1.8"/>
<text x="579.7" y="68.4" font-size="22" text-anchor="start" fill="#000" stroke="#000" stroke-width="0.5" stroke-linejoin="round" textLength="145.6" lengthAdjust="spacingAndGlyphs">(m)VD-HPα 6.7</text>
<line x1="535" y1="91.7" x2="574" y2="91.7" stroke="#000" stroke-width="1.6"/>
<rect x="548.5" y="85.2" width="13.0" height="13.0" fill="#000" stroke="#000" stroke-width="1.8"/>
<text x="579.7" y="98.4" font-size="22" text-anchor="start" fill="#000" stroke="#000" stroke-width="0.5" stroke-linejoin="round" textLength="157.0" lengthAdjust="spacingAndGlyphs">(m)VD-HPα 13.4</text>
<line x1="535" y1="121.8" x2="574" y2="121.8" stroke="#000" stroke-width="1.6"/>
<rect x="548.5" y="115.3" width="13.0" height="13.0" fill="#da0000" stroke="#000" stroke-width="1.8"/>
<text x="579.7" y="128.5" font-size="22" text-anchor="start" fill="#000" stroke="#000" stroke-width="0.5" stroke-linejoin="round" textLength="155.0" lengthAdjust="spacingAndGlyphs">(m)VD-HPα 20.1</text>
<line x1="535" y1="152.6" x2="574" y2="152.6" stroke="#000" stroke-width="1.6"/>
<circle cx="555.0" cy="152.6" r="6.8" fill="#0000ff" stroke="#000" stroke-width="1.8"/>
<text x="581.7" y="159.3" font-size="22" text-anchor="start" fill="#000" stroke="#000" stroke-width="0.5" stroke-linejoin="round" textLength="120.5" lengthAdjust="spacingAndGlyphs">Win55,212-2</text>
<text x="791.2" y="32.6" font-size="43.5" text-anchor="start" fill="#000" stroke="#000" stroke-width="0.8" stroke-linejoin="round" textLength="29.3" lengthAdjust="spacingAndGlyphs">B</text>
<line x1="909.5" y1="36.6" x2="909.5" y2="408.5" stroke="#000" stroke-width="3"/>
<line x1="902.0" y1="36.6" x2="909.5" y2="36.6" stroke="#000" stroke-width="2.8"/>
<text x="895.0" y="47.4" font-size="29" text-anchor="end" fill="#000" stroke="#000" stroke-width="0.7" stroke-linejoin="round" textLength="47.1" lengthAdjust="spacingAndGlyphs">800</text>
<line x1="902.0" y1="126.6" x2="909.5" y2="126.6" stroke="#000" stroke-width="2.8"/>
<text x="895.0" y="137.4" font-size="29" text-anchor="end" fill="#000" stroke="#000" stroke-width="0.7" stroke-linejoin="round" textLength="47.1" lengthAdjust="spacingAndGlyphs">600</text>
<line x1="902.0" y1="216.5" x2="909.5" y2="216.5" stroke="#000" stroke-width="2.8"/>
<text x="895.0" y="227.3" font-size="29" text-anchor="end" fill="#000" stroke="#000" stroke-width="0.7" stroke-linejoin="round" textLength="47.1" lengthAdjust="spacingAndGlyphs">400</text>
<line x1="902.0" y1="306.5" x2="909.5" y2="306.5" stroke="#000" stroke-width="2.8"/>
<text x="895.0" y="317.3" font-size="29" text-anchor="end" fill="#000" stroke="#000" stroke-width="0.7" stroke-linejoin="round" textLength="47.1" lengthAdjust="spacingAndGlyphs">200</text>
<line x1="902.0" y1="396.5" x2="909.5" y2="396.5" stroke="#000" stroke-width="2.8"/>
<text x="895.0" y="407.3" font-size="29" text-anchor="end" fill="#000" stroke="#000" stroke-width="0.7" stroke-linejoin="round" textLength="15.7" lengthAdjust="spacingAndGlyphs">0</text>
<text x="942.4" y="78.9" font-size="49" text-anchor="start" fill="#000" stroke="#000" stroke-width="1.4" stroke-linejoin="round" textLength="47.0" lengthAdjust="spacingAndGlyphs">W</text>
<line x1="939.7" y1="204.2" x2="939.7" y2="195.8" stroke="#000" stroke-width="2"/>
<line x1="934.2" y1="195.8" x2="945.2" y2="195.8" stroke="#000" stroke-width="2.2"/>
<line x1="964.7" y1="200.0" x2="964.7" y2="193.8" stroke="#000" stroke-width="2"/>
<line x1="959.2" y1="193.8" x2="970.2" y2="193.8" stroke="#000" stroke-width="2.2"/>
<line x1="989.7" y1="217.1" x2="989.7" y2="207.9" stroke="#000" stroke-width="2"/>
<line x1="984.2" y1="207.9" x2="995.2" y2="207.9" stroke="#000" stroke-width="2.2"/>
<line x1="1014.7" y1="230.6" x2="1014.7" y2="221.1" stroke="#000" stroke-width="2"/>
<line x1="1009.2" y1="221.1" x2="1020.2" y2="221.1" stroke="#000" stroke-width="2.2"/>
<line x1="1039.7" y1="232.6" x2="1039.7" y2="222.1" stroke="#000" stroke-width="2"/>
<line x1="1034.2" y1="222.1" x2="1045.2" y2="222.1" stroke="#000" stroke-width="2.2"/>
<rect x="927.2" y="204.2" width="25.0" height="192.3" fill="#fff" stroke="#000" stroke-width="2.3"/>
<rect x="952.2" y="200.0" width="25.0" height="196.5" fill="#787878" stroke="#000" stroke-width="2.3"/>
<rect x="977.2" y="217.1" width="25.0" height="179.4" fill="#000" stroke="#000" stroke-width="2.3"/>
<rect x="1002.2" y="230.6" width="25.0" height="165.9" fill="#da0000" stroke="#000" stroke-width="2.3"/>
<rect x="1027.2" y="232.6" width="25.0" height="163.9" fill="#0000ff" stroke="#000" stroke-width="2.3"/>
<line x1="1101.4" y1="299.9" x2="1101.4" y2="296.5" stroke="#000" stroke-width="2"/>
<line x1="1095.9" y1="296.5" x2="1106.9" y2="296.5" stroke="#000" stroke-width="2.2"/>
<line x1="1126.4" y1="301.2" x2="1126.4" y2="292.8" stroke="#000" stroke-width="2"/>
<line x1="1120.9" y1="292.8" x2="1131.9" y2="292.8" stroke="#000" stroke-width="2.2"/>
<line x1="1151.4" y1="296.0" x2="1151.4" y2="288.0" stroke="#000" stroke-width="2"/>
<line x1="1145.9" y1="288.0" x2="1156.9" y2="288.0" stroke="#000" stroke-width="2.2"/>
<line x1="1176.4" y1="296.0" x2="1176.4" y2="288.0" stroke="#000" stroke-width="2"/>
<line x1="1170.9" y1="288.0" x2="1181.9" y2="288.0" stroke="#000" stroke-width="2.2"/>
<line x1="1201.4" y1="294.6" x2="1201.4" y2="282.8" stroke="#000" stroke-width="2"/>
<line x1="1195.9" y1="282.8" x2="1206.9" y2="282.8" stroke="#000" stroke-width="2.2"/>
<rect x="1088.9" y="299.9" width="25.0" height="96.6" fill="#fff" stroke="#000" stroke-width="2.3"/>
<rect x="1113.9" y="301.2" width="25.0" height="95.3" fill="#787878" stroke="#000" stroke-width="2.3"/>
<rect x="1138.9" y="296.0" width="25.0" height="100.5" fill="#000" stroke="#000" stroke-width="2.3"/>
<rect x="1163.9" y="296.0" width="25.0" height="100.5" fill="#da0000" stroke="#000" stroke-width="2.3"/>
<rect x="1188.9" y="294.6" width="25.0" height="101.9" fill="#0000ff" stroke="#000" stroke-width="2.3"/>
<line x1="1263.0" y1="106.3" x2="1263.0" y2="100.5" stroke="#000" stroke-width="2"/>
<line x1="1257.5" y1="100.5" x2="1268.5" y2="100.5" stroke="#000" stroke-width="2.2"/>
<line x1="1288.0" y1="103.2" x2="1288.0" y2="96.3" stroke="#000" stroke-width="2"/>
<line x1="1282.5" y1="96.3" x2="1293.5" y2="96.3" stroke="#000" stroke-width="2.2"/>
<line x1="1313.0" y1="115.6" x2="1313.0" y2="106.9" stroke="#000" stroke-width="2"/>
<line x1="1307.5" y1="106.9" x2="1318.5" y2="106.9" stroke="#000" stroke-width="2.2"/>
<line x1="1338.0" y1="128.7" x2="1338.0" y2="115.6" stroke="#000" stroke-width="2"/>
<line x1="1332.5" y1="115.6" x2="1343.5" y2="115.6" stroke="#000" stroke-width="2.2"/>
<line x1="1363.0" y1="129.2" x2="1363.0" y2="116.9" stroke="#000" stroke-width="2"/>
<line x1="1357.5" y1="116.9" x2="1368.5" y2="116.9" stroke="#000" stroke-width="2.2"/>
<rect x="1250.5" y="106.3" width="25.0" height="290.2" fill="#fff" stroke="#000" stroke-width="2.3"/>
<rect x="1275.5" y="103.2" width="25.0" height="293.3" fill="#787878" stroke="#000" stroke-width="2.3"/>
<rect x="1300.5" y="115.6" width="25.0" height="280.9" fill="#000" stroke="#000" stroke-width="2.3"/>
<rect x="1325.5" y="128.7" width="25.0" height="267.8" fill="#da0000" stroke="#000" stroke-width="2.3"/>
<rect x="1350.5" y="129.2" width="25.0" height="267.3" fill="#0000ff" stroke="#000" stroke-width="2.3"/>
<line x1="909.5" y1="397.0" x2="1394.9" y2="397.0" stroke="#000" stroke-width="3"/>
<line x1="1070.8" y1="397.0" x2="1070.8" y2="405.0" stroke="#000" stroke-width="2.8"/>
<line x1="1232.1" y1="397.0" x2="1232.1" y2="405.0" stroke="#000" stroke-width="2.8"/>
<line x1="1393.4" y1="397.0" x2="1393.4" y2="405.0" stroke="#000" stroke-width="2.8"/>
<line x1="909.5" y1="436.5" x2="909.5" y2="809.5" stroke="#000" stroke-width="3"/>
<line x1="902.0" y1="436.5" x2="909.5" y2="436.5" stroke="#000" stroke-width="2.8"/>
<text x="895.0" y="447.3" font-size="29" text-anchor="end" fill="#000" stroke="#000" stroke-width="0.7" stroke-linejoin="round" textLength="47.1" lengthAdjust="spacingAndGlyphs">800</text>
<line x1="902.0" y1="526.7" x2="909.5" y2="526.7" stroke="#000" stroke-width="2.8"/>
<text x="895.0" y="537.5" font-size="29" text-anchor="end" fill="#000" stroke="#000" stroke-width="0.7" stroke-linejoin="round" textLength="47.1" lengthAdjust="spacingAndGlyphs">600</text>
<line x1="902.0" y1="617.0" x2="909.5" y2="617.0" stroke="#000" stroke-width="2.8"/>
<text x="895.0" y="627.8" font-size="29" text-anchor="end" fill="#000" stroke="#000" stroke-width="0.7" stroke-linejoin="round" textLength="47.1" lengthAdjust="spacingAndGlyphs">400</text>
<line x1="902.0" y1="707.2" x2="909.5" y2="707.2" stroke="#000" stroke-width="2.8"/>
<text x="895.0" y="718.0" font-size="29" text-anchor="end" fill="#000" stroke="#000" stroke-width="0.7" stroke-linejoin="round" textLength="47.1" lengthAdjust="spacingAndGlyphs">200</text>
<line x1="902.0" y1="797.5" x2="909.5" y2="797.5" stroke="#000" stroke-width="2.8"/>
<text x="895.0" y="808.3" font-size="29" text-anchor="end" fill="#000" stroke="#000" stroke-width="0.7" stroke-linejoin="round" textLength="15.7" lengthAdjust="spacingAndGlyphs">0</text>
<text x="941.4" y="480.3" font-size="49" text-anchor="start" fill="#000" stroke="#000" stroke-width="1.4" stroke-linejoin="round" textLength="143.6" lengthAdjust="spacingAndGlyphs">NREM</text>
<line x1="939.7" y1="685.0" x2="939.7" y2="676.6" stroke="#000" stroke-width="2"/>
<line x1="934.2" y1="676.6" x2="945.2" y2="676.6" stroke="#000" stroke-width="2.2"/>
<line x1="964.7" y1="687.6" x2="964.7" y2="682.0" stroke="#000" stroke-width="2"/>
<line x1="959.2" y1="682.0" x2="970.2" y2="682.0" stroke="#000" stroke-width="2.2"/>
<line x1="989.7" y1="670.0" x2="989.7" y2="662.1" stroke="#000" stroke-width="2"/>
<line x1="984.2" y1="662.1" x2="995.2" y2="662.1" stroke="#000" stroke-width="2.2"/>
<line x1="1014.7" y1="656.7" x2="1014.7" y2="647.4" stroke="#000" stroke-width="2"/>
<line x1="1009.2" y1="647.4" x2="1020.2" y2="647.4" stroke="#000" stroke-width="2.2"/>
<line x1="1039.7" y1="656.7" x2="1039.7" y2="647.4" stroke="#000" stroke-width="2"/>
<line x1="1034.2" y1="647.4" x2="1045.2" y2="647.4" stroke="#000" stroke-width="2.2"/>
<rect x="927.2" y="685.0" width="25.0" height="112.5" fill="#fff" stroke="#000" stroke-width="2.3"/>
<rect x="952.2" y="687.6" width="25.0" height="109.9" fill="#787878" stroke="#000" stroke-width="2.3"/>
<rect x="977.2" y="670.0" width="25.0" height="127.5" fill="#000" stroke="#000" stroke-width="2.3"/>
<rect x="1002.2" y="656.7" width="25.0" height="140.8" fill="#da0000" stroke="#000" stroke-width="2.3"/>
<rect x="1027.2" y="656.7" width="25.0" height="140.8" fill="#0000ff" stroke="#000" stroke-width="2.3"/>
<line x1="1101.4" y1="595.8" x2="1101.4" y2="593.5" stroke="#000" stroke-width="2"/>
<line x1="1095.9" y1="593.5" x2="1106.9" y2="593.5" stroke="#000" stroke-width="2.2"/>
<line x1="1126.4" y1="592.2" x2="1126.4" y2="589.0" stroke="#000" stroke-width="2"/>
<line x1="1120.9" y1="589.0" x2="1131.9" y2="589.0" stroke="#000" stroke-width="2.2"/>
<line x1="1151.4" y1="595.8" x2="1151.4" y2="586.7" stroke="#000" stroke-width="2"/>
<line x1="1145.9" y1="586.7" x2="1156.9" y2="586.7" stroke="#000" stroke-width="2.2"/>
<line x1="1176.4" y1="598.0" x2="1176.4" y2="591.7" stroke="#000" stroke-width="2"/>
<line x1="1170.9" y1="591.7" x2="1181.9" y2="591.7" stroke="#000" stroke-width="2.2"/>
<line x1="1201.4" y1="596.7" x2="1201.4" y2="586.7" stroke="#000" stroke-width="2"/>
<line x1="1195.9" y1="586.7" x2="1206.9" y2="586.7" stroke="#000" stroke-width="2.2"/>
<rect x="1088.9" y="595.8" width="25.0" height="201.7" fill="#fff" stroke="#000" stroke-width="2.3"/>
<rect x="1113.9" y="592.2" width="25.0" height="205.3" fill="#787878" stroke="#000" stroke-width="2.3"/>
<rect x="1138.9" y="595.8" width="25.0" height="201.7" fill="#000" stroke="#000" stroke-width="2.3"/>
<rect x="1163.9" y="598.0" width="25.0" height="199.5" fill="#da0000" stroke="#000" stroke-width="2.3"/>
<rect x="1188.9" y="596.7" width="25.0" height="200.8" fill="#0000ff" stroke="#000" stroke-width="2.3"/>
<line x1="1263.0" y1="482.9" x2="1263.0" y2="475.3" stroke="#000" stroke-width="2"/>
<line x1="1257.5" y1="475.3" x2="1268.5" y2="475.3" stroke="#000" stroke-width="2.2"/>
<line x1="1288.0" y1="481.6" x2="1288.0" y2="475.3" stroke="#000" stroke-width="2"/>
<line x1="1282.5" y1="475.3" x2="1293.5" y2="475.3" stroke="#000" stroke-width="2.2"/>
<line x1="1313.0" y1="468.5" x2="1313.0" y2="461.3" stroke="#000" stroke-width="2"/>
<line x1="1307.5" y1="461.3" x2="1318.5" y2="461.3" stroke="#000" stroke-width="2.2"/>
<line x1="1338.0" y1="457.2" x2="1338.0" y2="447.3" stroke="#000" stroke-width="2"/>
<line x1="1332.5" y1="447.3" x2="1343.5" y2="447.3" stroke="#000" stroke-width="2.2"/>
<line x1="1363.0" y1="456.3" x2="1363.0" y2="445.5" stroke="#000" stroke-width="2"/>
<line x1="1357.5" y1="445.5" x2="1368.5" y2="445.5" stroke="#000" stroke-width="2.2"/>
<rect x="1250.5" y="482.9" width="25.0" height="314.6" fill="#fff" stroke="#000" stroke-width="2.3"/>
<rect x="1275.5" y="481.6" width="25.0" height="315.9" fill="#787878" stroke="#000" stroke-width="2.3"/>
<rect x="1300.5" y="468.5" width="25.0" height="329.0" fill="#000" stroke="#000" stroke-width="2.3"/>
<rect x="1325.5" y="457.2" width="25.0" height="340.3" fill="#da0000" stroke="#000" stroke-width="2.3"/>
<rect x="1350.5" y="456.3" width="25.0" height="341.2" fill="#0000ff" stroke="#000" stroke-width="2.3"/>
<line x1="909.5" y1="798.0" x2="1394.9" y2="798.0" stroke="#000" stroke-width="3"/>
<line x1="1070.8" y1="798.0" x2="1070.8" y2="806.0" stroke="#000" stroke-width="2.8"/>
<line x1="1232.1" y1="798.0" x2="1232.1" y2="806.0" stroke="#000" stroke-width="2.8"/>
<line x1="1393.4" y1="798.0" x2="1393.4" y2="806.0" stroke="#000" stroke-width="2.8"/>
<line x1="909.5" y1="838.0" x2="909.5" y2="1210.0" stroke="#000" stroke-width="3"/>
<line x1="902.0" y1="838.0" x2="909.5" y2="838.0" stroke="#000" stroke-width="2.8"/>
<text x="895.0" y="848.8" font-size="29" text-anchor="end" fill="#000" stroke="#000" stroke-width="0.7" stroke-linejoin="round" textLength="49.5" lengthAdjust="spacingAndGlyphs">120</text>
<line x1="902.0" y1="958.0" x2="909.5" y2="958.0" stroke="#000" stroke-width="2.8"/>
<text x="895.0" y="968.8" font-size="29" text-anchor="end" fill="#000" stroke="#000" stroke-width="0.7" stroke-linejoin="round" textLength="31.4" lengthAdjust="spacingAndGlyphs">80</text>
<line x1="902.0" y1="1078.0" x2="909.5" y2="1078.0" stroke="#000" stroke-width="2.8"/>
<text x="895.0" y="1088.8" font-size="29" text-anchor="end" fill="#000" stroke="#000" stroke-width="0.7" stroke-linejoin="round" textLength="31.4" lengthAdjust="spacingAndGlyphs">40</text>
<line x1="902.0" y1="1198.0" x2="909.5" y2="1198.0" stroke="#000" stroke-width="2.8"/>
<text x="895.0" y="1208.8" font-size="29" text-anchor="end" fill="#000" stroke="#000" stroke-width="0.7" stroke-linejoin="round" textLength="15.7" lengthAdjust="spacingAndGlyphs">0</text>
<text x="940.0" y="880.3" font-size="49" text-anchor="start" fill="#000" stroke="#000" stroke-width="1.4" stroke-linejoin="round" textLength="110.3" lengthAdjust="spacingAndGlyphs">REM</text>
<line x1="939.7" y1="1067.5" x2="939.7" y2="1059.7" stroke="#000" stroke-width="2"/>
<line x1="934.2" y1="1059.7" x2="945.2" y2="1059.7" stroke="#000" stroke-width="2.2"/>
<line x1="964.7" y1="1078.6" x2="964.7" y2="1069.0" stroke="#000" stroke-width="2"/>
<line x1="959.2" y1="1069.0" x2="970.2" y2="1069.0" stroke="#000" stroke-width="2.2"/>
<line x1="989.7" y1="1080.1" x2="989.7" y2="1064.5" stroke="#000" stroke-width="2"/>
<line x1="984.2" y1="1064.5" x2="995.2" y2="1064.5" stroke="#000" stroke-width="2.2"/>
<line x1="1014.7" y1="1080.1" x2="1014.7" y2="1074.1" stroke="#000" stroke-width="2"/>
<line x1="1009.2" y1="1074.1" x2="1020.2" y2="1074.1" stroke="#000" stroke-width="2.2"/>
<line x1="1039.7" y1="1063.9" x2="1039.7" y2="1047.7" stroke="#000" stroke-width="2"/>
<line x1="1034.2" y1="1047.7" x2="1045.2" y2="1047.7" stroke="#000" stroke-width="2.2"/>
<rect x="927.2" y="1067.5" width="25.0" height="130.5" fill="#fff" stroke="#000" stroke-width="2.3"/>
<rect x="952.2" y="1078.6" width="25.0" height="119.4" fill="#787878" stroke="#000" stroke-width="2.3"/>
<rect x="977.2" y="1080.1" width="25.0" height="117.9" fill="#000" stroke="#000" stroke-width="2.3"/>
<rect x="1002.2" y="1080.1" width="25.0" height="117.9" fill="#da0000" stroke="#000" stroke-width="2.3"/>
<rect x="1027.2" y="1063.9" width="25.0" height="134.1" fill="#0000ff" stroke="#000" stroke-width="2.3"/>
<line x1="1101.4" y1="1027.9" x2="1101.4" y2="1015.3" stroke="#000" stroke-width="2"/>
<line x1="1095.9" y1="1015.3" x2="1106.9" y2="1015.3" stroke="#000" stroke-width="2.2"/>
<line x1="1126.4" y1="1050.7" x2="1126.4" y2="1023.4" stroke="#000" stroke-width="2"/>
<line x1="1120.9" y1="1023.4" x2="1131.9" y2="1023.4" stroke="#000" stroke-width="2.2"/>
<line x1="1151.4" y1="1057.9" x2="1151.4" y2="1048.9" stroke="#000" stroke-width="2"/>
<line x1="1145.9" y1="1048.9" x2="1156.9" y2="1048.9" stroke="#000" stroke-width="2.2"/>
<line x1="1176.4" y1="1042.0" x2="1176.4" y2="1027.9" stroke="#000" stroke-width="2"/>
<line x1="1170.9" y1="1027.9" x2="1181.9" y2="1027.9" stroke="#000" stroke-width="2.2"/>
<line x1="1201.4" y1="1055.5" x2="1201.4" y2="1038.7" stroke="#000" stroke-width="2"/>
<line x1="1195.9" y1="1038.7" x2="1206.9" y2="1038.7" stroke="#000" stroke-width="2.2"/>
<rect x="1088.9" y="1027.9" width="25.0" height="170.1" fill="#fff" stroke="#000" stroke-width="2.3"/>
<rect x="1113.9" y="1050.7" width="25.0" height="147.3" fill="#787878" stroke="#000" stroke-width="2.3"/>
<rect x="1138.9" y="1057.9" width="25.0" height="140.1" fill="#000" stroke="#000" stroke-width="2.3"/>
<rect x="1163.9" y="1042.0" width="25.0" height="156.0" fill="#da0000" stroke="#000" stroke-width="2.3"/>
<rect x="1188.9" y="1055.5" width="25.0" height="142.5" fill="#0000ff" stroke="#000" stroke-width="2.3"/>
<line x1="1263.0" y1="898.3" x2="1263.0" y2="886.3" stroke="#000" stroke-width="2"/>
<line x1="1257.5" y1="886.3" x2="1268.5" y2="886.3" stroke="#000" stroke-width="2.2"/>
<line x1="1288.0" y1="931.9" x2="1288.0" y2="908.5" stroke="#000" stroke-width="2"/>
<line x1="1282.5" y1="908.5" x2="1293.5" y2="908.5" stroke="#000" stroke-width="2.2"/>
<line x1="1313.0" y1="941.5" x2="1313.0" y2="922.9" stroke="#000" stroke-width="2"/>
<line x1="1307.5" y1="922.9" x2="1318.5" y2="922.9" stroke="#000" stroke-width="2.2"/>
<line x1="1338.0" y1="925.3" x2="1338.0" y2="907.0" stroke="#000" stroke-width="2"/>
<line x1="1332.5" y1="907.0" x2="1343.5" y2="907.0" stroke="#000" stroke-width="2.2"/>
<line x1="1363.0" y1="923.8" x2="1363.0" y2="899.5" stroke="#000" stroke-width="2"/>
<line x1="1357.5" y1="899.5" x2="1368.5" y2="899.5" stroke="#000" stroke-width="2.2"/>
<rect x="1250.5" y="898.3" width="25.0" height="299.7" fill="#fff" stroke="#000" stroke-width="2.3"/>
<rect x="1275.5" y="931.9" width="25.0" height="266.1" fill="#787878" stroke="#000" stroke-width="2.3"/>
<rect x="1300.5" y="941.5" width="25.0" height="256.5" fill="#000" stroke="#000" stroke-width="2.3"/>
<rect x="1325.5" y="925.3" width="25.0" height="272.7" fill="#da0000" stroke="#000" stroke-width="2.3"/>
<rect x="1350.5" y="923.8" width="25.0" height="274.2" fill="#0000ff" stroke="#000" stroke-width="2.3"/>
<line x1="909.5" y1="1198.5" x2="1394.9" y2="1198.5" stroke="#000" stroke-width="3"/>
<line x1="1070.8" y1="1198.5" x2="1070.8" y2="1206.5" stroke="#000" stroke-width="2.8"/>
<line x1="1232.1" y1="1198.5" x2="1232.1" y2="1206.5" stroke="#000" stroke-width="2.8"/>
<line x1="1393.4" y1="1198.5" x2="1393.4" y2="1206.5" stroke="#000" stroke-width="2.8"/>
<path d="M1014.60,195.90 L1014.60,188.30 M1014.60,195.90 L1021.83,193.55 M1014.60,195.90 L1007.37,193.55 M1014.60,195.90 L1018.83,201.72 M1014.60,195.90 L1010.37,201.72" stroke="#da0000" stroke-width="3.6" fill="none"/>
<path d="M1039.90,195.90 L1039.90,188.30 M1039.90,195.90 L1047.13,193.55 M1039.90,195.90 L1032.67,193.55 M1039.90,195.90 L1044.13,201.72 M1039.90,195.90 L1035.67,201.72" stroke="#0000ff" stroke-width="3.6" fill="none"/>
<path d="M1014.30,623.10 L1014.30,615.50 M1014.30,623.10 L1021.53,620.75 M1014.30,623.10 L1007.07,620.75 M1014.30,623.10 L1018.53,628.92 M1014.30,623.10 L1010.07,628.92" stroke="#da0000" stroke-width="3.6" fill="none"/>
<path d="M1040.00,623.10 L1040.00,615.50 M1040.00,623.10 L1047.23,620.75 M1040.00,623.10 L1032.77,620.75 M1040.00,623.10 L1044.23,628.92 M1040.00,623.10 L1035.77,628.92" stroke="#0000ff" stroke-width="3.6" fill="none"/>
<text x="986.0" y="1246.4" font-size="28.5" text-anchor="middle" fill="#000" stroke="#000" stroke-width="0.2" stroke-linejoin="round" textLength="124.7" lengthAdjust="spacingAndGlyphs">12 h Dark</text>
<text x="1151.2" y="1246.4" font-size="28.5" text-anchor="middle" fill="#000" stroke="#000" stroke-width="0.2" stroke-linejoin="round" textLength="130.3" lengthAdjust="spacingAndGlyphs">12 h Light</text>
<text x="1318.0" y="1246.4" font-size="28.5" text-anchor="middle" fill="#000" stroke="#000" stroke-width="0.2" stroke-linejoin="round" textLength="128.3" lengthAdjust="spacingAndGlyphs">24 h Total</text>
<text x="0" y="0" stroke="#000" stroke-width="1.1" font-size="50.5" textLength="672" lengthAdjust="spacingAndGlyphs" transform="translate(822.7,950.6) rotate(-90)">Amount of each stage (min)</text>
<rect x="1026.1" y="18.8" width="12.6" height="12.6" fill="#fff" stroke="#000" stroke-width="1.6"/>
<text x="1047.5" y="31.4" font-size="20.5" text-anchor="start" fill="#000" stroke="#000" stroke-width="0.5" stroke-linejoin="round" textLength="71.5" lengthAdjust="spacingAndGlyphs">Vehicle</text>
<rect x="1220.9" y="18.8" width="12.6" height="12.6" fill="#787878" stroke="#000" stroke-width="1.6"/>
<text x="1239.0" y="31.4" font-size="20.5" text-anchor="start" fill="#000" stroke="#000" stroke-width="0.5" stroke-linejoin="round" textLength="145.7" lengthAdjust="spacingAndGlyphs">(m)VD-HPα 6.7</text>
<rect x="1026.1" y="47.1" width="12.6" height="12.6" fill="#000" stroke="#000" stroke-width="1.6"/>
<text x="1043.9" y="59.7" font-size="20.5" text-anchor="start" fill="#000" stroke="#000" stroke-width="0.5" stroke-linejoin="round" textLength="157.6" lengthAdjust="spacingAndGlyphs">(m)VD-HPα 13.4</text>
<rect x="1220.9" y="47.1" width="12.6" height="12.6" fill="#da0000" stroke="#000" stroke-width="1.6"/>
<text x="1239.0" y="59.7" font-size="20.5" text-anchor="start" fill="#000" stroke="#000" stroke-width="0.5" stroke-linejoin="round" textLength="155.4" lengthAdjust="spacingAndGlyphs">(m)VD-HPα 20.1</text>
<rect x="1026.1" y="76.3" width="12.6" height="12.6" fill="#0000ff" stroke="#000" stroke-width="1.6"/>
<text x="1047.5" y="88.9" font-size="20.5" text-anchor="start" fill="#000" stroke="#000" stroke-width="0.5" stroke-linejoin="round" textLength="119.3" lengthAdjust="spacingAndGlyphs">Win55,212-2</text>
</svg>
</body></html>
